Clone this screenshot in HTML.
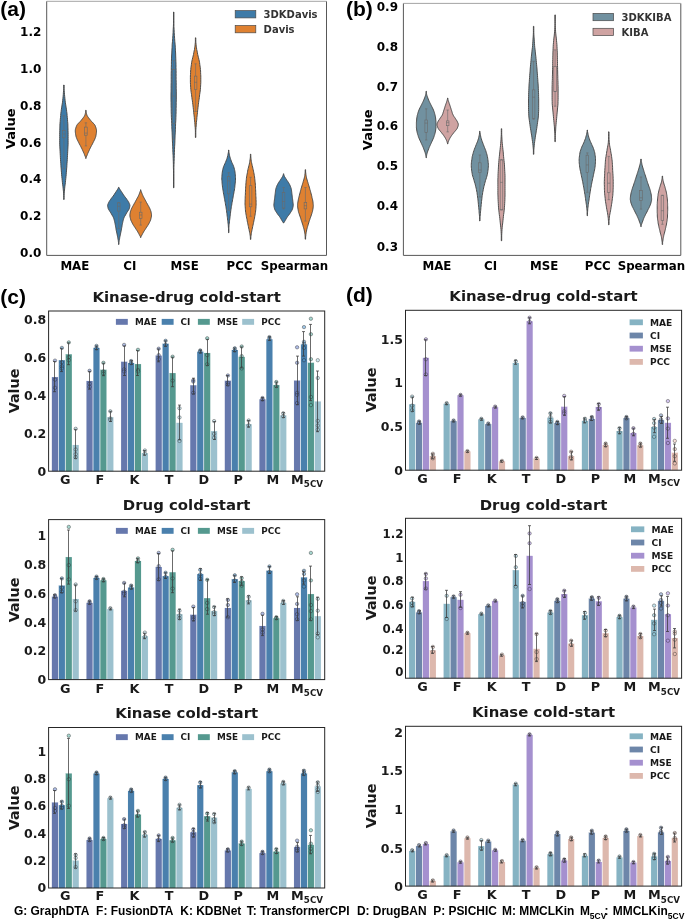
<!DOCTYPE html>
<html lang="en"><head><meta charset="utf-8"><title>Figure</title>
<style>html,body{margin:0;padding:0;background:#fff}body{width:685px;height:921px;overflow:hidden}svg{display:block}.p{fill-opacity:.55;stroke:#1c1c1c;stroke-opacity:.7;stroke-width:.55}.e{fill:none;stroke:#3a3a3a;stroke-opacity:.75;stroke-width:1}</style>
</head><body>
<svg width="685" height="921" viewBox="0 0 685 921">
<rect x="0.00" y="0.00" width="685.00" height="921.00" fill="#fff" stroke="none" stroke-width="1"/>
<rect x="46.70" y="1.30" width="279.80" height="254.10" fill="#fff" stroke="none" stroke-width="1"/>
<path d="M46.7,1.3V255.4H326.5V1.3" fill="none" stroke="#585858" stroke-width="1"/>
<line x1="46.70" y1="1.30" x2="326.50" y2="1.30" stroke="#9a9a9a" stroke-width="0.9"/>
<path d="M63.7,85.0L63.7,86.9L63.7,88.8L63.6,90.7L63.4,92.6L63.3,94.5L63.1,96.5L62.9,98.4L62.7,100.3L62.5,102.2L62.2,104.1L61.9,106.0L61.6,107.9L61.3,109.8L61.1,111.7L60.8,113.6L60.7,115.5L60.5,117.4L60.3,119.3L60.2,121.3L60.0,123.2L59.9,125.1L59.9,127.0L59.8,128.9L59.8,130.8L59.7,132.7L59.7,134.6L59.7,136.5L59.7,138.4L59.7,140.3L59.7,142.2L59.7,144.2L59.8,146.1L59.9,148.0L60.0,149.9L60.1,151.8L60.2,153.7L60.3,155.6L60.4,157.5L60.5,159.4L60.6,161.3L60.8,163.2L60.9,165.2L61.0,167.1L61.2,169.0L61.3,170.9L61.5,172.8L61.6,174.7L61.8,176.6L62.0,178.5L62.2,180.4L62.4,182.3L62.6,184.2L62.9,186.1L63.1,188.1L63.3,190.0L63.5,191.9L63.6,193.8L63.7,195.7L63.7,197.6L63.7,199.5L64.1,199.5L64.1,197.6L64.1,195.7L64.2,193.8L64.3,191.9L64.5,190.0L64.7,188.1L64.9,186.1L65.2,184.2L65.4,182.3L65.6,180.4L65.8,178.5L66.0,176.6L66.2,174.7L66.3,172.8L66.5,170.9L66.6,169.0L66.8,167.1L66.9,165.2L67.0,163.2L67.2,161.3L67.3,159.4L67.4,157.5L67.5,155.6L67.6,153.7L67.7,151.8L67.8,149.9L67.9,148.0L68.0,146.1L68.1,144.2L68.1,142.2L68.1,140.3L68.1,138.4L68.1,136.5L68.1,134.6L68.1,132.7L68.0,130.8L68.0,128.9L67.9,127.0L67.9,125.1L67.8,123.2L67.6,121.3L67.5,119.3L67.3,117.4L67.1,115.5L67.0,113.6L66.7,111.7L66.5,109.8L66.2,107.9L65.9,106.0L65.6,104.1L65.3,102.2L65.1,100.3L64.9,98.4L64.7,96.5L64.5,94.5L64.4,92.6L64.2,90.7L64.1,88.8L64.1,86.9L64.1,85.0Z" fill="#3e7ba8" stroke="#484848" stroke-width="0.95" stroke-linejoin="round"/>
<line x1="63.90" y1="115.70" x2="63.90" y2="130.40" stroke="#6a6a6a" stroke-width="0.6"/>
<line x1="63.90" y1="137.80" x2="63.90" y2="168.80" stroke="#6a6a6a" stroke-width="0.6"/>
<line x1="62.70" y1="115.70" x2="65.10" y2="115.70" stroke="#6a6a6a" stroke-width="0.6"/>
<line x1="62.70" y1="168.80" x2="65.10" y2="168.80" stroke="#6a6a6a" stroke-width="0.6"/>
<rect x="62.60" y="130.40" width="2.60" height="7.40" fill="none" stroke="#6a6a6a" stroke-width="0.6"/>
<line x1="62.60" y1="134.00" x2="65.20" y2="134.00" stroke="#6a6a6a" stroke-width="0.6"/>
<path d="M85.7,110.3L85.7,111.1L85.7,111.9L85.5,112.7L85.3,113.5L85.1,114.3L84.9,115.1L84.5,115.9L84.0,116.7L83.4,117.5L82.8,118.3L82.2,119.1L81.5,119.9L80.9,120.7L80.2,121.5L79.4,122.3L78.6,123.1L77.8,123.9L77.2,124.7L76.7,125.5L76.4,126.3L76.1,127.1L75.8,127.9L75.6,128.7L75.4,129.5L75.3,130.3L75.3,131.1L75.3,131.9L75.4,132.7L75.5,133.5L75.6,134.3L75.8,135.2L75.9,136.0L76.1,136.8L76.4,137.6L76.7,138.4L77.0,139.2L77.4,140.0L77.8,140.8L78.2,141.6L78.6,142.4L79.0,143.2L79.4,144.0L79.8,144.8L80.3,145.6L80.7,146.4L81.1,147.2L81.5,148.0L81.9,148.8L82.3,149.6L82.6,150.4L83.0,151.2L83.4,152.0L83.7,152.8L84.1,153.6L84.4,154.4L84.7,155.2L85.0,156.0L85.4,156.8L85.7,157.6L85.7,158.4L86.1,158.4L86.1,157.6L86.4,156.8L86.8,156.0L87.1,155.2L87.4,154.4L87.7,153.6L88.1,152.8L88.4,152.0L88.8,151.2L89.2,150.4L89.5,149.6L89.9,148.8L90.3,148.0L90.7,147.2L91.1,146.4L91.5,145.6L92.0,144.8L92.4,144.0L92.8,143.2L93.2,142.4L93.6,141.6L94.0,140.8L94.4,140.0L94.8,139.2L95.1,138.4L95.4,137.6L95.7,136.8L95.9,136.0L96.0,135.2L96.2,134.3L96.3,133.5L96.4,132.7L96.5,131.9L96.5,131.1L96.5,130.3L96.4,129.5L96.2,128.7L96.0,127.9L95.7,127.1L95.4,126.3L95.1,125.5L94.6,124.7L94.0,123.9L93.2,123.1L92.4,122.3L91.6,121.5L90.9,120.7L90.3,119.9L89.6,119.1L89.0,118.3L88.4,117.5L87.8,116.7L87.3,115.9L86.9,115.1L86.7,114.3L86.5,113.5L86.3,112.7L86.1,111.9L86.1,111.1L86.1,110.3Z" fill="#df8131" stroke="#484848" stroke-width="0.95" stroke-linejoin="round"/>
<line x1="85.90" y1="122.80" x2="85.90" y2="127.10" stroke="#6a6a6a" stroke-width="0.6"/>
<line x1="85.90" y1="135.20" x2="85.90" y2="145.90" stroke="#6a6a6a" stroke-width="0.6"/>
<line x1="84.70" y1="122.80" x2="87.10" y2="122.80" stroke="#6a6a6a" stroke-width="0.6"/>
<line x1="84.70" y1="145.90" x2="87.10" y2="145.90" stroke="#6a6a6a" stroke-width="0.6"/>
<rect x="84.60" y="127.10" width="2.60" height="8.10" fill="none" stroke="#6a6a6a" stroke-width="0.6"/>
<line x1="84.60" y1="133.10" x2="87.20" y2="133.10" stroke="#6a6a6a" stroke-width="0.6"/>
<path d="M118.5,187.4L118.2,188.3L117.6,189.3L117.0,190.2L116.4,191.2L115.7,192.2L115.1,193.1L114.5,194.1L113.9,195.0L113.2,196.0L112.5,196.9L111.8,197.8L111.0,198.8L110.4,199.8L109.7,200.7L109.1,201.7L108.6,202.6L108.2,203.6L107.8,204.5L107.6,205.5L107.7,206.4L107.9,207.3L108.1,208.3L108.5,209.2L109.1,210.2L109.7,211.2L110.4,212.1L110.9,213.1L111.5,214.0L112.0,215.0L112.5,215.9L113.1,216.8L113.5,217.8L113.9,218.8L114.1,219.7L114.4,220.7L114.6,221.6L114.8,222.6L115.0,223.5L115.2,224.4L115.4,225.4L115.5,226.4L115.7,227.3L115.9,228.2L116.0,229.2L116.2,230.2L116.4,231.1L116.6,232.1L116.8,233.0L117.0,233.9L117.2,234.9L117.4,235.9L117.6,236.8L117.8,237.8L117.9,238.7L118.1,239.7L118.3,240.6L118.4,241.6L118.5,242.5L118.5,243.4L118.5,244.4L119.0,244.4L119.0,243.4L119.0,242.5L119.1,241.6L119.2,240.6L119.4,239.7L119.6,238.7L119.7,237.8L119.9,236.8L120.1,235.9L120.3,234.9L120.5,233.9L120.7,233.0L120.9,232.1L121.1,231.1L121.3,230.2L121.5,229.2L121.6,228.2L121.8,227.3L122.0,226.4L122.1,225.4L122.3,224.4L122.5,223.5L122.7,222.6L122.9,221.6L123.1,220.7L123.4,219.7L123.6,218.8L124.0,217.8L124.4,216.8L125.0,215.9L125.5,215.0L126.0,214.0L126.6,213.1L127.1,212.1L127.8,211.2L128.4,210.2L129.0,209.2L129.4,208.3L129.6,207.3L129.8,206.4L129.9,205.5L129.7,204.5L129.3,203.6L128.9,202.6L128.4,201.7L127.8,200.7L127.1,199.8L126.5,198.8L125.7,197.8L125.0,196.9L124.3,196.0L123.6,195.0L123.0,194.1L122.4,193.1L121.8,192.2L121.1,191.2L120.5,190.2L119.9,189.3L119.3,188.3L119.0,187.4Z" fill="#3e7ba8" stroke="#484848" stroke-width="0.95" stroke-linejoin="round"/>
<line x1="118.75" y1="202.60" x2="118.75" y2="202.90" stroke="#6a6a6a" stroke-width="0.6"/>
<line x1="118.75" y1="211.10" x2="118.75" y2="228.60" stroke="#6a6a6a" stroke-width="0.6"/>
<line x1="117.55" y1="202.60" x2="119.95" y2="202.60" stroke="#6a6a6a" stroke-width="0.6"/>
<line x1="117.55" y1="228.60" x2="119.95" y2="228.60" stroke="#6a6a6a" stroke-width="0.6"/>
<rect x="117.45" y="202.90" width="2.60" height="8.20" fill="none" stroke="#6a6a6a" stroke-width="0.6"/>
<line x1="117.45" y1="206.30" x2="120.05" y2="206.30" stroke="#6a6a6a" stroke-width="0.6"/>
<path d="M140.5,189.8L140.5,190.6L140.2,191.4L139.9,192.2L139.6,193.0L139.3,193.8L139.0,194.6L138.6,195.4L138.3,196.2L137.9,197.0L137.4,197.8L137.0,198.5L136.6,199.3L136.2,200.1L135.7,200.9L135.3,201.7L134.9,202.5L134.4,203.3L134.0,204.1L133.5,204.9L133.1,205.7L132.6,206.5L132.2,207.3L131.8,208.1L131.4,208.9L131.1,209.7L130.8,210.5L130.5,211.3L130.3,212.1L130.2,212.9L130.0,213.7L129.9,214.4L129.9,215.2L129.9,216.0L130.0,216.8L130.2,217.6L130.4,218.4L130.6,219.2L130.8,220.0L131.1,220.8L131.5,221.6L131.9,222.4L132.3,223.2L132.7,224.0L133.2,224.8L133.7,225.6L134.2,226.4L134.8,227.2L135.3,228.0L135.8,228.8L136.3,229.6L136.8,230.3L137.3,231.1L137.8,231.9L138.2,232.7L138.7,233.5L139.1,234.3L139.5,235.1L140.0,235.9L140.4,236.7L140.5,237.5L140.9,237.5L141.0,236.7L141.4,235.9L141.9,235.1L142.3,234.3L142.7,233.5L143.2,232.7L143.6,231.9L144.1,231.1L144.6,230.3L145.1,229.6L145.6,228.8L146.1,228.0L146.6,227.2L147.2,226.4L147.7,225.6L148.2,224.8L148.7,224.0L149.1,223.2L149.5,222.4L149.9,221.6L150.3,220.8L150.6,220.0L150.8,219.2L151.0,218.4L151.2,217.6L151.4,216.8L151.5,216.0L151.5,215.2L151.5,214.4L151.4,213.7L151.2,212.9L151.1,212.1L150.9,211.3L150.6,210.5L150.3,209.7L150.0,208.9L149.6,208.1L149.2,207.3L148.8,206.5L148.3,205.7L147.9,204.9L147.4,204.1L147.0,203.3L146.5,202.5L146.1,201.7L145.7,200.9L145.2,200.1L144.8,199.3L144.4,198.5L144.0,197.8L143.5,197.0L143.1,196.2L142.8,195.4L142.4,194.6L142.1,193.8L141.8,193.0L141.5,192.2L141.2,191.4L140.9,190.6L140.9,189.8Z" fill="#df8131" stroke="#484848" stroke-width="0.95" stroke-linejoin="round"/>
<line x1="140.70" y1="202.10" x2="140.70" y2="212.20" stroke="#6a6a6a" stroke-width="0.6"/>
<line x1="140.70" y1="218.50" x2="140.70" y2="225.10" stroke="#6a6a6a" stroke-width="0.6"/>
<line x1="139.50" y1="202.10" x2="141.90" y2="202.10" stroke="#6a6a6a" stroke-width="0.6"/>
<line x1="139.50" y1="225.10" x2="141.90" y2="225.10" stroke="#6a6a6a" stroke-width="0.6"/>
<rect x="139.40" y="212.20" width="2.60" height="6.30" fill="none" stroke="#6a6a6a" stroke-width="0.6"/>
<line x1="139.40" y1="215.00" x2="142.00" y2="215.00" stroke="#6a6a6a" stroke-width="0.6"/>
<path d="M173.5,12.0L173.5,14.9L173.5,17.9L173.5,20.8L173.5,23.7L173.4,26.6L173.2,29.6L173.1,32.5L172.9,35.4L172.7,38.4L172.5,41.3L172.2,44.2L172.1,47.2L171.9,50.1L171.8,53.0L171.6,56.0L171.5,58.9L171.4,61.8L171.4,64.7L171.3,67.7L171.3,70.6L171.2,73.5L171.2,76.5L171.2,79.4L171.2,82.3L171.1,85.2L171.1,88.2L171.1,91.1L171.0,94.0L171.0,97.0L171.0,99.9L171.1,102.8L171.1,105.8L171.2,108.7L171.2,111.6L171.3,114.5L171.4,117.5L171.6,120.4L171.7,123.3L171.8,126.3L171.9,129.2L172.1,132.1L172.2,135.1L172.3,138.0L172.4,140.9L172.6,143.9L172.7,146.8L172.8,149.7L172.9,152.6L173.1,155.6L173.2,158.5L173.3,161.4L173.4,164.4L173.4,167.3L173.5,170.2L173.5,173.2L173.5,176.1L173.5,179.0L173.5,181.9L173.5,184.9L173.5,187.8L173.9,187.8L173.9,184.9L173.9,181.9L173.9,179.0L173.9,176.1L173.9,173.2L173.9,170.2L173.9,167.3L174.0,164.4L174.1,161.4L174.2,158.5L174.3,155.6L174.4,152.6L174.5,149.7L174.6,146.8L174.8,143.9L174.9,140.9L175.0,138.0L175.1,135.1L175.3,132.1L175.4,129.2L175.5,126.3L175.6,123.3L175.8,120.4L175.9,117.5L176.0,114.5L176.1,111.6L176.1,108.7L176.2,105.8L176.2,102.8L176.3,99.9L176.3,97.0L176.3,94.0L176.3,91.1L176.2,88.2L176.2,85.2L176.2,82.3L176.1,79.4L176.1,76.5L176.1,73.5L176.1,70.6L176.0,67.7L176.0,64.7L175.9,61.8L175.8,58.9L175.7,56.0L175.6,53.0L175.4,50.1L175.3,47.2L175.1,44.2L174.8,41.3L174.6,38.4L174.4,35.4L174.2,32.5L174.1,29.6L173.9,26.6L173.9,23.7L173.9,20.8L173.9,17.9L173.9,14.9L173.9,12.0Z" fill="#3e7ba8" stroke="#484848" stroke-width="0.95" stroke-linejoin="round"/>
<line x1="173.66" y1="60.70" x2="173.66" y2="69.60" stroke="#6a6a6a" stroke-width="0.6"/>
<line x1="173.66" y1="123.40" x2="173.66" y2="139.80" stroke="#6a6a6a" stroke-width="0.6"/>
<line x1="172.46" y1="60.70" x2="174.86" y2="60.70" stroke="#6a6a6a" stroke-width="0.6"/>
<line x1="172.46" y1="139.80" x2="174.86" y2="139.80" stroke="#6a6a6a" stroke-width="0.6"/>
<rect x="172.36" y="69.60" width="2.60" height="53.80" fill="none" stroke="#6a6a6a" stroke-width="0.6"/>
<line x1="172.36" y1="96.00" x2="174.96" y2="96.00" stroke="#6a6a6a" stroke-width="0.6"/>
<path d="M195.4,37.8L195.4,39.5L195.4,41.1L195.3,42.8L195.1,44.4L195.0,46.1L194.7,47.8L194.5,49.4L194.1,51.1L193.8,52.8L193.5,54.4L193.1,56.1L192.7,57.7L192.3,59.4L191.9,61.1L191.6,62.7L191.4,64.4L191.2,66.0L190.9,67.7L190.8,69.4L190.6,71.0L190.6,72.7L190.5,74.4L190.4,76.0L190.4,77.7L190.4,79.3L190.4,81.0L190.4,82.7L190.5,84.3L190.6,86.0L190.7,87.7L190.8,89.3L191.0,91.0L191.2,92.6L191.5,94.3L191.7,96.0L191.9,97.6L192.1,99.3L192.4,100.9L192.6,102.6L192.8,104.3L193.0,105.9L193.2,107.6L193.4,109.3L193.6,110.9L193.7,112.6L193.9,114.2L194.1,115.9L194.3,117.6L194.4,119.2L194.6,120.9L194.8,122.5L194.9,124.2L195.0,125.9L195.2,127.5L195.3,129.2L195.4,130.9L195.4,132.5L195.4,134.2L195.4,135.8L195.4,137.5L195.8,137.5L195.8,135.8L195.8,134.2L195.8,132.5L195.8,130.9L195.9,129.2L196.0,127.5L196.2,125.9L196.3,124.2L196.4,122.5L196.6,120.9L196.8,119.2L196.9,117.6L197.1,115.9L197.3,114.2L197.5,112.6L197.6,110.9L197.8,109.3L198.0,107.6L198.2,105.9L198.4,104.3L198.6,102.6L198.8,100.9L199.1,99.3L199.3,97.6L199.5,96.0L199.7,94.3L200.0,92.6L200.2,91.0L200.4,89.3L200.5,87.7L200.6,86.0L200.7,84.3L200.8,82.7L200.8,81.0L200.8,79.3L200.8,77.7L200.8,76.0L200.7,74.4L200.6,72.7L200.6,71.0L200.4,69.4L200.3,67.7L200.0,66.0L199.8,64.4L199.6,62.7L199.3,61.1L198.9,59.4L198.5,57.7L198.1,56.1L197.7,54.4L197.4,52.8L197.1,51.1L196.7,49.4L196.5,47.8L196.2,46.1L196.1,44.4L195.9,42.8L195.8,41.1L195.8,39.5L195.8,37.8Z" fill="#df8131" stroke="#484848" stroke-width="0.95" stroke-linejoin="round"/>
<line x1="195.60" y1="63.80" x2="195.60" y2="76.10" stroke="#6a6a6a" stroke-width="0.6"/>
<line x1="195.60" y1="89.50" x2="195.60" y2="111.50" stroke="#6a6a6a" stroke-width="0.6"/>
<line x1="194.40" y1="63.80" x2="196.80" y2="63.80" stroke="#6a6a6a" stroke-width="0.6"/>
<line x1="194.40" y1="111.50" x2="196.80" y2="111.50" stroke="#6a6a6a" stroke-width="0.6"/>
<rect x="194.30" y="76.10" width="2.60" height="13.40" fill="none" stroke="#6a6a6a" stroke-width="0.6"/>
<line x1="194.30" y1="82.30" x2="196.90" y2="82.30" stroke="#6a6a6a" stroke-width="0.6"/>
<path d="M228.5,150.1L228.5,151.5L228.3,152.9L228.0,154.2L227.8,155.6L227.4,157.0L227.0,158.4L226.5,159.7L226.0,161.1L225.4,162.5L224.8,163.9L224.2,165.2L223.6,166.6L223.2,168.0L222.8,169.4L222.5,170.8L222.3,172.1L222.1,173.5L222.0,174.9L221.9,176.3L221.8,177.6L221.8,179.0L221.9,180.4L222.0,181.8L222.1,183.1L222.2,184.5L222.4,185.9L222.5,187.3L222.7,188.6L223.0,190.0L223.2,191.4L223.4,192.8L223.7,194.2L223.9,195.5L224.2,196.9L224.4,198.3L224.7,199.7L224.9,201.0L225.2,202.4L225.4,203.8L225.6,205.2L225.9,206.5L226.1,207.9L226.3,209.3L226.5,210.7L226.7,212.0L226.9,213.4L227.0,214.8L227.2,216.2L227.4,217.6L227.5,218.9L227.7,220.3L227.9,221.7L228.0,223.1L228.2,224.4L228.3,225.8L228.4,227.2L228.5,228.6L228.5,229.9L228.5,231.3L228.5,232.7L228.9,232.7L228.9,231.3L228.9,229.9L228.9,228.6L228.9,227.2L229.0,225.8L229.1,224.4L229.3,223.1L229.5,221.7L229.6,220.3L229.8,218.9L230.0,217.6L230.1,216.2L230.3,214.8L230.5,213.4L230.6,212.0L230.8,210.7L231.0,209.3L231.2,207.9L231.4,206.5L231.7,205.2L231.9,203.8L232.1,202.4L232.4,201.0L232.6,199.7L232.9,198.3L233.1,196.9L233.4,195.5L233.6,194.2L233.9,192.8L234.1,191.4L234.4,190.0L234.6,188.6L234.8,187.3L234.9,185.9L235.1,184.5L235.2,183.1L235.4,181.8L235.5,180.4L235.5,179.0L235.5,177.6L235.4,176.3L235.3,174.9L235.2,173.5L235.0,172.1L234.8,170.8L234.5,169.4L234.1,168.0L233.7,166.6L233.2,165.2L232.5,163.9L231.9,162.5L231.3,161.1L230.8,159.7L230.4,158.4L229.9,157.0L229.6,155.6L229.3,154.2L229.0,152.9L228.9,151.5L228.9,150.1Z" fill="#3e7ba8" stroke="#484848" stroke-width="0.95" stroke-linejoin="round"/>
<line x1="228.66" y1="172.70" x2="228.66" y2="176.50" stroke="#6a6a6a" stroke-width="0.6"/>
<line x1="228.66" y1="193.80" x2="228.66" y2="210.40" stroke="#6a6a6a" stroke-width="0.6"/>
<line x1="227.46" y1="172.70" x2="229.86" y2="172.70" stroke="#6a6a6a" stroke-width="0.6"/>
<line x1="227.46" y1="210.40" x2="229.86" y2="210.40" stroke="#6a6a6a" stroke-width="0.6"/>
<rect x="227.36" y="176.50" width="2.60" height="17.30" fill="none" stroke="#6a6a6a" stroke-width="0.6"/>
<line x1="227.36" y1="180.80" x2="229.96" y2="180.80" stroke="#6a6a6a" stroke-width="0.6"/>
<path d="M250.4,154.2L250.4,155.6L250.4,157.0L250.2,158.5L250.0,159.9L249.8,161.3L249.6,162.7L249.3,164.1L248.9,165.6L248.6,167.0L248.2,168.4L247.9,169.8L247.6,171.2L247.4,172.7L247.1,174.1L246.8,175.5L246.6,176.9L246.4,178.3L246.3,179.8L246.1,181.2L246.0,182.6L245.9,184.0L245.8,185.4L245.7,186.9L245.6,188.3L245.5,189.7L245.5,191.1L245.4,192.5L245.4,194.0L245.3,195.4L245.2,196.8L245.2,198.2L245.1,199.6L245.1,201.1L245.0,202.5L245.0,203.9L245.1,205.3L245.2,206.7L245.3,208.2L245.4,209.6L245.5,211.0L245.7,212.4L245.9,213.8L246.2,215.3L246.4,216.7L246.7,218.1L247.0,219.5L247.2,220.9L247.5,222.4L247.8,223.8L248.1,225.2L248.4,226.6L248.7,228.0L249.0,229.5L249.3,230.9L249.6,232.3L249.9,233.7L250.1,235.1L250.3,236.6L250.4,238.0L250.4,239.4L250.8,239.4L250.8,238.0L250.9,236.6L251.1,235.1L251.3,233.7L251.5,232.3L251.8,230.9L252.1,229.5L252.4,228.0L252.7,226.6L253.0,225.2L253.3,223.8L253.6,222.4L253.9,220.9L254.2,219.5L254.5,218.1L254.7,216.7L255.0,215.3L255.2,213.8L255.5,212.4L255.6,211.0L255.8,209.6L255.9,208.2L256.0,206.7L256.1,205.3L256.1,203.9L256.1,202.5L256.1,201.1L256.0,199.6L256.0,198.2L255.9,196.8L255.8,195.4L255.8,194.0L255.7,192.5L255.7,191.1L255.6,189.7L255.5,188.3L255.5,186.9L255.4,185.4L255.3,184.0L255.2,182.6L255.0,181.2L254.9,179.8L254.7,178.3L254.6,176.9L254.3,175.5L254.1,174.1L253.8,172.7L253.5,171.2L253.2,169.8L252.9,168.4L252.6,167.0L252.2,165.6L251.9,164.1L251.6,162.7L251.3,161.3L251.1,159.9L251.0,158.5L250.8,157.0L250.8,155.6L250.8,154.2Z" fill="#df8131" stroke="#484848" stroke-width="0.95" stroke-linejoin="round"/>
<line x1="250.58" y1="177.30" x2="250.58" y2="185.70" stroke="#6a6a6a" stroke-width="0.6"/>
<line x1="250.58" y1="206.80" x2="250.58" y2="216.30" stroke="#6a6a6a" stroke-width="0.6"/>
<line x1="249.38" y1="177.30" x2="251.78" y2="177.30" stroke="#6a6a6a" stroke-width="0.6"/>
<line x1="249.38" y1="216.30" x2="251.78" y2="216.30" stroke="#6a6a6a" stroke-width="0.6"/>
<rect x="249.28" y="185.70" width="2.60" height="21.10" fill="none" stroke="#6a6a6a" stroke-width="0.6"/>
<line x1="249.28" y1="204.10" x2="251.88" y2="204.10" stroke="#6a6a6a" stroke-width="0.6"/>
<path d="M283.4,173.8L283.3,174.6L283.0,175.4L282.7,176.3L282.2,177.1L281.7,177.9L281.2,178.7L280.6,179.5L280.1,180.4L279.5,181.2L279.0,182.0L278.5,182.8L278.0,183.6L277.5,184.5L277.1,185.3L276.8,186.1L276.5,186.9L276.2,187.7L275.9,188.6L275.7,189.4L275.6,190.2L275.5,191.0L275.4,191.8L275.3,192.7L275.2,193.5L275.1,194.3L275.0,195.1L274.9,195.9L274.8,196.8L274.7,197.6L274.6,198.4L274.5,199.2L274.4,200.0L274.3,200.9L274.2,201.7L274.1,202.5L274.0,203.3L273.9,204.1L273.9,205.0L273.9,205.8L274.0,206.6L274.2,207.4L274.4,208.2L274.6,209.1L275.0,209.9L275.4,210.7L275.9,211.5L276.4,212.3L277.0,213.2L277.5,214.0L278.1,214.8L278.7,215.6L279.4,216.4L280.0,217.3L280.5,218.1L281.0,218.9L281.4,219.7L281.9,220.5L282.4,221.4L283.0,222.2L283.4,223.0L283.8,223.0L284.1,222.2L284.7,221.4L285.2,220.5L285.7,219.7L286.1,218.9L286.6,218.1L287.1,217.3L287.7,216.4L288.4,215.6L289.0,214.8L289.6,214.0L290.1,213.2L290.7,212.3L291.2,211.5L291.7,210.7L292.1,209.9L292.5,209.1L292.7,208.2L292.9,207.4L293.1,206.6L293.2,205.8L293.2,205.0L293.2,204.1L293.1,203.3L293.0,202.5L292.9,201.7L292.8,200.9L292.7,200.0L292.6,199.2L292.5,198.4L292.4,197.6L292.3,196.8L292.2,195.9L292.1,195.1L292.0,194.3L291.9,193.5L291.8,192.7L291.7,191.8L291.6,191.0L291.5,190.2L291.4,189.4L291.2,188.6L290.9,187.7L290.6,186.9L290.3,186.1L290.0,185.3L289.6,184.5L289.1,183.6L288.6,182.8L288.1,182.0L287.6,181.2L287.0,180.4L286.5,179.5L285.9,178.7L285.4,177.9L284.9,177.1L284.4,176.3L284.1,175.4L283.8,174.6L283.8,173.8Z" fill="#3e7ba8" stroke="#484848" stroke-width="0.95" stroke-linejoin="round"/>
<line x1="283.55" y1="187.50" x2="283.55" y2="192.30" stroke="#6a6a6a" stroke-width="0.6"/>
<line x1="283.55" y1="208.00" x2="283.55" y2="208.90" stroke="#6a6a6a" stroke-width="0.6"/>
<line x1="282.35" y1="187.50" x2="284.75" y2="187.50" stroke="#6a6a6a" stroke-width="0.6"/>
<line x1="282.35" y1="208.90" x2="284.75" y2="208.90" stroke="#6a6a6a" stroke-width="0.6"/>
<rect x="282.25" y="192.30" width="2.60" height="15.70" fill="none" stroke="#6a6a6a" stroke-width="0.6"/>
<line x1="282.25" y1="201.50" x2="284.85" y2="201.50" stroke="#6a6a6a" stroke-width="0.6"/>
<path d="M305.2,169.7L305.2,170.9L305.2,172.0L305.1,173.2L304.9,174.3L304.8,175.5L304.6,176.6L304.3,177.8L304.0,179.0L303.7,180.1L303.3,181.3L303.0,182.4L302.6,183.6L302.3,184.8L301.9,185.9L301.6,187.1L301.2,188.2L300.9,189.4L300.6,190.5L300.3,191.7L300.0,192.9L299.7,194.0L299.4,195.2L299.1,196.3L298.8,197.5L298.5,198.7L298.3,199.8L298.1,201.0L297.9,202.1L297.7,203.3L297.6,204.4L297.6,205.6L297.6,206.8L297.8,207.9L298.0,209.1L298.2,210.2L298.4,211.4L298.7,212.6L299.1,213.7L299.5,214.9L299.9,216.0L300.3,217.2L300.7,218.3L301.0,219.5L301.4,220.7L301.8,221.8L302.2,223.0L302.5,224.1L302.9,225.3L303.2,226.5L303.5,227.6L303.9,228.8L304.2,229.9L304.4,231.1L304.6,232.2L304.8,233.4L305.0,234.6L305.1,235.7L305.2,236.9L305.2,238.0L305.2,239.2L305.6,239.2L305.6,238.0L305.6,236.9L305.8,235.7L305.9,234.6L306.1,233.4L306.2,232.2L306.5,231.1L306.7,229.9L307.0,228.8L307.3,227.6L307.6,226.5L308.0,225.3L308.3,224.1L308.7,223.0L309.0,221.8L309.4,220.7L309.8,219.5L310.2,218.3L310.6,217.2L311.0,216.0L311.4,214.9L311.8,213.7L312.1,212.6L312.5,211.4L312.7,210.2L312.9,209.1L313.1,207.9L313.2,206.8L313.3,205.6L313.2,204.4L313.1,203.3L313.0,202.1L312.8,201.0L312.6,199.8L312.3,198.7L312.0,197.5L311.8,196.3L311.5,195.2L311.2,194.0L310.9,192.9L310.6,191.7L310.3,190.5L309.9,189.4L309.6,188.2L309.3,187.1L308.9,185.9L308.6,184.8L308.2,183.6L307.9,182.4L307.5,181.3L307.2,180.1L306.8,179.0L306.5,177.8L306.3,176.6L306.1,175.5L305.9,174.3L305.8,173.2L305.6,172.0L305.6,170.9L305.6,169.7Z" fill="#df8131" stroke="#484848" stroke-width="0.95" stroke-linejoin="round"/>
<line x1="305.43" y1="187.50" x2="305.43" y2="202.50" stroke="#6a6a6a" stroke-width="0.6"/>
<line x1="305.43" y1="208.90" x2="305.43" y2="221.10" stroke="#6a6a6a" stroke-width="0.6"/>
<line x1="304.23" y1="187.50" x2="306.63" y2="187.50" stroke="#6a6a6a" stroke-width="0.6"/>
<line x1="304.23" y1="221.10" x2="306.63" y2="221.10" stroke="#6a6a6a" stroke-width="0.6"/>
<rect x="304.13" y="202.50" width="2.60" height="6.40" fill="none" stroke="#6a6a6a" stroke-width="0.6"/>
<line x1="304.13" y1="205.70" x2="306.73" y2="205.70" stroke="#6a6a6a" stroke-width="0.6"/>
<text x="41.30" y="256.90" font-size="12.0" text-anchor="end" fill="#000" font-family="'DejaVu Sans','Liberation Sans',sans-serif" font-weight="bold">0.0</text>
<text x="41.30" y="220.20" font-size="12.0" text-anchor="end" fill="#000" font-family="'DejaVu Sans','Liberation Sans',sans-serif" font-weight="bold">0.2</text>
<text x="41.30" y="183.40" font-size="12.0" text-anchor="end" fill="#000" font-family="'DejaVu Sans','Liberation Sans',sans-serif" font-weight="bold">0.4</text>
<text x="41.30" y="146.60" font-size="12.0" text-anchor="end" fill="#000" font-family="'DejaVu Sans','Liberation Sans',sans-serif" font-weight="bold">0.6</text>
<text x="41.30" y="109.80" font-size="12.0" text-anchor="end" fill="#000" font-family="'DejaVu Sans','Liberation Sans',sans-serif" font-weight="bold">0.8</text>
<text x="41.30" y="73.00" font-size="12.0" text-anchor="end" fill="#000" font-family="'DejaVu Sans','Liberation Sans',sans-serif" font-weight="bold">1.0</text>
<text x="41.30" y="36.20" font-size="12.0" text-anchor="end" fill="#000" font-family="'DejaVu Sans','Liberation Sans',sans-serif" font-weight="bold">1.2</text>
<text x="74.85" y="270.40" font-size="11.8" text-anchor="middle" fill="#000" font-family="'DejaVu Sans','Liberation Sans',sans-serif" font-weight="bold">MAE</text>
<text x="129.75" y="270.40" font-size="11.8" text-anchor="middle" fill="#000" font-family="'DejaVu Sans','Liberation Sans',sans-serif" font-weight="bold">CI</text>
<text x="184.65" y="270.40" font-size="11.8" text-anchor="middle" fill="#000" font-family="'DejaVu Sans','Liberation Sans',sans-serif" font-weight="bold">MSE</text>
<text x="239.55" y="270.40" font-size="11.8" text-anchor="middle" fill="#000" font-family="'DejaVu Sans','Liberation Sans',sans-serif" font-weight="bold">PCC</text>
<text x="294.45" y="270.40" font-size="11.8" text-anchor="middle" fill="#000" font-family="'DejaVu Sans','Liberation Sans',sans-serif" font-weight="bold">Spearman</text>
<text x="14.70" y="128.70" font-size="13.0" text-anchor="middle" fill="#000" font-family="'DejaVu Sans','Liberation Sans',sans-serif" font-weight="bold" transform="rotate(-90 14.70 128.70)">Value</text>
<rect x="235.20" y="10.60" width="20.60" height="7.30" fill="#3e7ba8" stroke="#4a4a4a" stroke-width="0.7"/>
<text x="263.60" y="17.90" font-size="10.0" text-anchor="start" fill="#333" font-family="'DejaVu Sans','Liberation Sans',sans-serif" font-weight="bold">3DKDavis</text>
<rect x="235.20" y="25.50" width="20.60" height="7.30" fill="#df8131" stroke="#4a4a4a" stroke-width="0.7"/>
<text x="263.60" y="32.80" font-size="10.0" text-anchor="start" fill="#333" font-family="'DejaVu Sans','Liberation Sans',sans-serif" font-weight="bold">Davis</text>
<text x="0.30" y="16.20" font-size="21" text-anchor="start" fill="#000" font-family="'Liberation Sans','DejaVu Sans',sans-serif" font-weight="bold">(a)</text>
<rect x="403.40" y="3.40" width="277.40" height="252.00" fill="#fff" stroke="none" stroke-width="1"/>
<path d="M403.4,3.4V255.4H680.8V3.4" fill="none" stroke="#585858" stroke-width="1"/>
<line x1="403.40" y1="3.40" x2="680.80" y2="3.40" stroke="#9a9a9a" stroke-width="0.9"/>
<path d="M426.0,91.3L426.0,92.4L425.9,93.5L425.7,94.6L425.4,95.7L425.0,96.8L424.6,97.9L424.2,99.0L423.7,100.2L423.2,101.3L422.7,102.4L422.1,103.5L421.6,104.6L421.0,105.7L420.5,106.8L419.9,107.9L419.4,109.0L418.9,110.1L418.5,111.2L418.1,112.3L417.8,113.4L417.5,114.5L417.2,115.6L417.0,116.8L416.8,117.9L416.7,119.0L416.6,120.1L416.5,121.2L416.4,122.3L416.4,123.4L416.4,124.5L416.4,125.6L416.4,126.7L416.4,127.8L416.6,128.9L416.7,130.0L416.9,131.1L417.1,132.2L417.4,133.4L417.7,134.5L418.1,135.6L418.4,136.7L418.8,137.8L419.3,138.9L419.8,140.0L420.3,141.1L420.8,142.2L421.3,143.3L421.8,144.4L422.3,145.5L422.8,146.6L423.3,147.7L423.7,148.8L424.2,150.0L424.6,151.1L425.0,152.2L425.3,153.3L425.6,154.4L425.8,155.5L426.0,156.6L426.0,157.7L426.4,157.7L426.4,156.6L426.6,155.5L426.8,154.4L427.1,153.3L427.4,152.2L427.8,151.1L428.2,150.0L428.7,148.8L429.1,147.7L429.6,146.6L430.1,145.5L430.6,144.4L431.1,143.3L431.6,142.2L432.1,141.1L432.6,140.0L433.1,138.9L433.6,137.8L434.0,136.7L434.3,135.6L434.7,134.5L435.0,133.4L435.3,132.2L435.5,131.1L435.7,130.0L435.8,128.9L436.0,127.8L436.0,126.7L436.0,125.6L436.0,124.5L436.0,123.4L436.0,122.3L435.9,121.2L435.8,120.1L435.7,119.0L435.6,117.9L435.4,116.8L435.2,115.6L434.9,114.5L434.6,113.4L434.3,112.3L433.9,111.2L433.5,110.1L433.0,109.0L432.5,107.9L431.9,106.8L431.4,105.7L430.8,104.6L430.3,103.5L429.7,102.4L429.2,101.3L428.7,100.2L428.2,99.0L427.8,97.9L427.4,96.8L427.0,95.7L426.7,94.6L426.5,93.5L426.4,92.4L426.4,91.3Z" fill="#7191a0" stroke="#484848" stroke-width="0.95" stroke-linejoin="round"/>
<line x1="426.20" y1="108.80" x2="426.20" y2="120.00" stroke="#6a6a6a" stroke-width="0.6"/>
<line x1="426.20" y1="132.30" x2="426.20" y2="140.00" stroke="#6a6a6a" stroke-width="0.6"/>
<line x1="425.00" y1="108.80" x2="427.40" y2="108.80" stroke="#6a6a6a" stroke-width="0.6"/>
<line x1="425.00" y1="140.00" x2="427.40" y2="140.00" stroke="#6a6a6a" stroke-width="0.6"/>
<rect x="424.90" y="120.00" width="2.60" height="12.30" fill="none" stroke="#6a6a6a" stroke-width="0.6"/>
<line x1="424.90" y1="123.10" x2="427.50" y2="123.10" stroke="#6a6a6a" stroke-width="0.6"/>
<path d="M447.5,98.1L447.5,98.9L447.3,99.6L447.1,100.4L446.9,101.2L446.6,101.9L446.4,102.7L446.1,103.4L445.8,104.2L445.6,105.0L445.3,105.7L445.0,106.5L444.8,107.3L444.6,108.0L444.3,108.8L444.1,109.5L443.8,110.3L443.6,111.1L443.4,111.8L443.1,112.6L442.9,113.4L442.6,114.1L442.3,114.9L441.9,115.7L441.4,116.4L440.9,117.2L440.3,117.9L439.8,118.7L439.3,119.5L438.8,120.2L438.3,121.0L437.9,121.8L437.6,122.5L437.2,123.3L437.0,124.1L437.0,124.8L437.1,125.6L437.4,126.3L437.6,127.1L437.9,127.9L438.3,128.6L438.8,129.4L439.4,130.2L440.1,130.9L440.7,131.7L441.3,132.4L441.9,133.2L442.5,134.0L443.1,134.7L443.7,135.5L444.2,136.3L444.7,137.0L445.2,137.8L445.6,138.6L446.0,139.3L446.4,140.1L446.7,140.8L447.0,141.6L447.2,142.4L447.5,143.1L447.5,143.9L447.9,143.9L447.9,143.1L448.1,142.4L448.4,141.6L448.6,140.8L449.0,140.1L449.3,139.3L449.7,138.6L450.1,137.8L450.6,137.0L451.1,136.3L451.6,135.5L452.2,134.7L452.8,134.0L453.4,133.2L454.0,132.4L454.6,131.7L455.3,130.9L455.9,130.2L456.5,129.4L457.1,128.6L457.4,127.9L457.7,127.1L458.0,126.3L458.2,125.6L458.3,124.8L458.3,124.1L458.1,123.3L457.7,122.5L457.4,121.8L457.0,121.0L456.5,120.2L456.0,119.5L455.5,118.7L455.0,117.9L454.5,117.2L453.9,116.4L453.5,115.7L453.1,114.9L452.7,114.1L452.4,113.4L452.2,112.6L452.0,111.8L451.7,111.1L451.5,110.3L451.2,109.5L451.0,108.8L450.8,108.0L450.5,107.3L450.3,106.5L450.0,105.7L449.8,105.0L449.5,104.2L449.2,103.4L449.0,102.7L448.7,101.9L448.5,101.2L448.2,100.4L448.0,99.6L447.9,98.9L447.9,98.1Z" fill="#cfa3a2" stroke="#484848" stroke-width="0.95" stroke-linejoin="round"/>
<line x1="447.66" y1="110.00" x2="447.66" y2="120.90" stroke="#6a6a6a" stroke-width="0.6"/>
<line x1="447.66" y1="125.70" x2="447.66" y2="131.90" stroke="#6a6a6a" stroke-width="0.6"/>
<line x1="446.46" y1="110.00" x2="448.86" y2="110.00" stroke="#6a6a6a" stroke-width="0.6"/>
<line x1="446.46" y1="131.90" x2="448.86" y2="131.90" stroke="#6a6a6a" stroke-width="0.6"/>
<rect x="446.36" y="120.90" width="2.60" height="4.80" fill="none" stroke="#6a6a6a" stroke-width="0.6"/>
<line x1="446.36" y1="122.70" x2="448.96" y2="122.70" stroke="#6a6a6a" stroke-width="0.6"/>
<path d="M479.6,131.3L479.6,132.8L479.4,134.3L479.1,135.8L478.8,137.3L478.4,138.8L477.9,140.3L477.4,141.8L476.8,143.2L476.2,144.7L475.6,146.2L475.0,147.7L474.4,149.2L473.9,150.7L473.4,152.2L473.0,153.7L472.6,155.2L472.2,156.7L472.0,158.2L471.8,159.7L471.6,161.2L471.4,162.7L471.3,164.2L471.3,165.6L471.3,167.1L471.5,168.6L471.6,170.1L471.8,171.6L472.1,173.1L472.3,174.6L472.7,176.1L473.2,177.6L473.7,179.1L474.1,180.6L474.5,182.1L475.0,183.6L475.4,185.1L475.7,186.6L476.1,188.0L476.4,189.5L476.7,191.0L477.0,192.5L477.2,194.0L477.4,195.5L477.6,197.0L477.8,198.5L478.0,200.0L478.1,201.5L478.3,203.0L478.4,204.5L478.6,206.0L478.7,207.5L478.9,209.0L479.0,210.4L479.1,211.9L479.2,213.4L479.4,214.9L479.5,216.4L479.6,217.9L479.6,219.4L479.6,220.9L480.0,220.9L480.0,219.4L480.0,217.9L480.1,216.4L480.3,214.9L480.4,213.4L480.5,211.9L480.7,210.4L480.8,209.0L480.9,207.5L481.1,206.0L481.2,204.5L481.4,203.0L481.5,201.5L481.7,200.0L481.9,198.5L482.0,197.0L482.2,195.5L482.5,194.0L482.7,192.5L483.0,191.0L483.3,189.5L483.6,188.0L483.9,186.6L484.3,185.1L484.7,183.6L485.1,182.1L485.5,180.6L486.0,179.1L486.5,177.6L486.9,176.1L487.3,174.6L487.6,173.1L487.8,171.6L488.0,170.1L488.2,168.6L488.3,167.1L488.4,165.6L488.4,164.2L488.2,162.7L488.1,161.2L487.9,159.7L487.7,158.2L487.4,156.7L487.1,155.2L486.7,153.7L486.2,152.2L485.8,150.7L485.2,149.2L484.6,147.7L484.0,146.2L483.4,144.7L482.9,143.2L482.3,141.8L481.8,140.3L481.3,138.8L480.9,137.3L480.6,135.8L480.3,134.3L480.0,132.8L480.0,131.3Z" fill="#7191a0" stroke="#484848" stroke-width="0.95" stroke-linejoin="round"/>
<line x1="479.83" y1="155.00" x2="479.83" y2="162.80" stroke="#6a6a6a" stroke-width="0.6"/>
<line x1="479.83" y1="172.60" x2="479.83" y2="197.00" stroke="#6a6a6a" stroke-width="0.6"/>
<line x1="478.63" y1="155.00" x2="481.03" y2="155.00" stroke="#6a6a6a" stroke-width="0.6"/>
<line x1="478.63" y1="197.00" x2="481.03" y2="197.00" stroke="#6a6a6a" stroke-width="0.6"/>
<rect x="478.53" y="162.80" width="2.60" height="9.80" fill="none" stroke="#6a6a6a" stroke-width="0.6"/>
<line x1="478.53" y1="170.00" x2="481.13" y2="170.00" stroke="#6a6a6a" stroke-width="0.6"/>
<path d="M501.3,128.7L501.3,130.6L501.3,132.4L501.3,134.3L501.2,136.2L501.1,138.0L501.0,139.9L500.8,141.8L500.7,143.6L500.5,145.5L500.3,147.4L500.1,149.3L499.9,151.1L499.7,153.0L499.5,154.9L499.3,156.7L499.1,158.6L498.9,160.5L498.8,162.3L498.6,164.2L498.5,166.1L498.4,167.9L498.3,169.8L498.2,171.7L498.1,173.5L498.0,175.4L498.0,177.3L497.9,179.1L497.9,181.0L497.9,182.9L497.9,184.8L497.9,186.6L497.9,188.5L497.9,190.4L497.9,192.2L497.9,194.1L498.0,196.0L498.0,197.8L498.1,199.7L498.2,201.6L498.3,203.4L498.4,205.3L498.5,207.2L498.7,209.0L498.9,210.9L499.1,212.8L499.3,214.6L499.6,216.5L499.8,218.4L500.0,220.2L500.2,222.1L500.4,224.0L500.6,225.9L500.8,227.7L501.0,229.6L501.1,231.5L501.2,233.3L501.3,235.2L501.3,237.1L501.3,238.9L501.3,240.8L501.7,240.8L501.7,238.9L501.7,237.1L501.7,235.2L501.8,233.3L501.9,231.5L502.0,229.6L502.2,227.7L502.3,225.9L502.6,224.0L502.8,222.1L503.0,220.2L503.2,218.4L503.4,216.5L503.6,214.6L503.9,212.8L504.1,210.9L504.3,209.0L504.4,207.2L504.6,205.3L504.7,203.4L504.8,201.6L504.9,199.7L504.9,197.8L505.0,196.0L505.0,194.1L505.0,192.2L505.0,190.4L505.0,188.5L505.0,186.6L505.0,184.8L505.0,182.9L505.0,181.0L505.0,179.1L505.0,177.3L505.0,175.4L504.9,173.5L504.8,171.7L504.7,169.8L504.6,167.9L504.5,166.1L504.4,164.2L504.2,162.3L504.0,160.5L503.8,158.6L503.6,156.7L503.4,154.9L503.3,153.0L503.1,151.1L502.9,149.3L502.7,147.4L502.5,145.5L502.3,143.6L502.1,141.8L502.0,139.9L501.9,138.0L501.8,136.2L501.7,134.3L501.7,132.4L501.7,130.6L501.7,128.7Z" fill="#cfa3a2" stroke="#484848" stroke-width="0.95" stroke-linejoin="round"/>
<line x1="501.48" y1="159.60" x2="501.48" y2="160.00" stroke="#6a6a6a" stroke-width="0.6"/>
<line x1="501.48" y1="209.80" x2="501.48" y2="210.00" stroke="#6a6a6a" stroke-width="0.6"/>
<line x1="500.28" y1="159.60" x2="502.68" y2="159.60" stroke="#6a6a6a" stroke-width="0.6"/>
<line x1="500.28" y1="210.00" x2="502.68" y2="210.00" stroke="#6a6a6a" stroke-width="0.6"/>
<rect x="500.18" y="160.00" width="2.60" height="49.80" fill="none" stroke="#6a6a6a" stroke-width="0.6"/>
<line x1="500.18" y1="182.40" x2="502.78" y2="182.40" stroke="#6a6a6a" stroke-width="0.6"/>
<path d="M533.4,26.3L533.4,28.4L533.4,30.6L533.4,32.7L533.3,34.8L533.2,37.0L533.0,39.1L532.9,41.2L532.7,43.4L532.6,45.5L532.4,47.6L532.1,49.8L531.9,51.9L531.7,54.0L531.4,56.2L531.2,58.3L531.0,60.4L530.8,62.6L530.6,64.7L530.4,66.8L530.2,69.0L530.1,71.1L529.9,73.2L529.7,75.4L529.6,77.5L529.4,79.6L529.3,81.8L529.1,83.9L529.0,86.0L528.9,88.2L528.8,90.3L528.7,92.4L528.6,94.6L528.6,96.7L528.5,98.8L528.5,101.0L528.5,103.1L528.5,105.2L528.5,107.4L528.5,109.5L528.6,111.6L528.7,113.8L528.8,115.9L529.0,118.0L529.3,120.2L529.6,122.3L529.9,124.4L530.2,126.6L530.5,128.7L530.9,130.8L531.2,133.0L531.6,135.1L531.9,137.2L532.2,139.4L532.5,141.5L532.8,143.6L533.0,145.8L533.2,147.9L533.4,150.0L533.4,152.2L533.4,154.3L533.8,154.3L533.8,152.2L533.8,150.0L534.0,147.9L534.2,145.8L534.4,143.6L534.7,141.5L535.0,139.4L535.3,137.2L535.6,135.1L536.0,133.0L536.3,130.8L536.7,128.7L537.0,126.6L537.3,124.4L537.6,122.3L537.9,120.2L538.2,118.0L538.4,115.9L538.5,113.8L538.6,111.6L538.7,109.5L538.7,107.4L538.7,105.2L538.7,103.1L538.7,101.0L538.7,98.8L538.6,96.7L538.6,94.6L538.5,92.4L538.4,90.3L538.3,88.2L538.2,86.0L538.1,83.9L537.9,81.8L537.8,79.6L537.6,77.5L537.5,75.4L537.3,73.2L537.1,71.1L537.0,69.0L536.8,66.8L536.6,64.7L536.4,62.6L536.2,60.4L536.0,58.3L535.8,56.2L535.5,54.0L535.3,51.9L535.1,49.8L534.8,47.6L534.6,45.5L534.5,43.4L534.3,41.2L534.2,39.1L534.0,37.0L533.9,34.8L533.8,32.7L533.8,30.6L533.8,28.4L533.8,26.3Z" fill="#7191a0" stroke="#484848" stroke-width="0.95" stroke-linejoin="round"/>
<line x1="533.60" y1="61.40" x2="533.60" y2="89.90" stroke="#6a6a6a" stroke-width="0.6"/>
<line x1="533.60" y1="118.40" x2="533.60" y2="119.20" stroke="#6a6a6a" stroke-width="0.6"/>
<line x1="532.40" y1="61.40" x2="534.80" y2="61.40" stroke="#6a6a6a" stroke-width="0.6"/>
<line x1="532.40" y1="119.20" x2="534.80" y2="119.20" stroke="#6a6a6a" stroke-width="0.6"/>
<rect x="532.30" y="89.90" width="2.60" height="28.50" fill="none" stroke="#6a6a6a" stroke-width="0.6"/>
<line x1="532.30" y1="97.20" x2="534.90" y2="97.20" stroke="#6a6a6a" stroke-width="0.6"/>
<path d="M554.9,14.9L554.9,17.0L554.9,19.1L554.9,21.2L554.9,23.4L554.9,25.5L554.8,27.6L554.7,29.7L554.6,31.8L554.4,33.9L554.2,36.0L553.9,38.1L553.7,40.3L553.5,42.4L553.3,44.5L553.2,46.6L553.1,48.7L553.0,50.8L552.9,52.9L552.9,55.1L552.8,57.2L552.8,59.3L552.7,61.4L552.7,63.5L552.7,65.6L552.6,67.7L552.6,69.8L552.5,72.0L552.5,74.1L552.4,76.2L552.4,78.3L552.3,80.4L552.2,82.5L552.2,84.6L552.1,86.8L552.1,88.9L552.1,91.0L552.1,93.1L552.1,95.2L552.1,97.3L552.1,99.4L552.2,101.5L552.2,103.7L552.4,105.8L552.6,107.9L552.8,110.0L553.0,112.1L553.2,114.2L553.4,116.3L553.6,118.5L553.8,120.6L554.0,122.7L554.2,124.8L554.4,126.9L554.5,129.0L554.6,131.1L554.8,133.2L554.9,135.4L554.9,137.5L554.9,139.6L554.9,141.7L555.3,141.7L555.3,139.6L555.3,137.5L555.3,135.4L555.4,133.2L555.6,131.1L555.7,129.0L555.8,126.9L556.0,124.8L556.2,122.7L556.4,120.6L556.6,118.5L556.8,116.3L557.0,114.2L557.2,112.1L557.4,110.0L557.6,107.9L557.8,105.8L558.0,103.7L558.0,101.5L558.1,99.4L558.1,97.3L558.1,95.2L558.1,93.1L558.1,91.0L558.1,88.9L558.1,86.8L558.0,84.6L558.0,82.5L557.9,80.4L557.8,78.3L557.8,76.2L557.7,74.1L557.7,72.0L557.6,69.8L557.6,67.7L557.5,65.6L557.5,63.5L557.5,61.4L557.4,59.3L557.4,57.2L557.3,55.1L557.3,52.9L557.2,50.8L557.1,48.7L557.0,46.6L556.9,44.5L556.7,42.4L556.5,40.3L556.3,38.1L556.0,36.0L555.8,33.9L555.6,31.8L555.5,29.7L555.4,27.6L555.3,25.5L555.3,23.4L555.3,21.2L555.3,19.1L555.3,17.0L555.3,14.9Z" fill="#cfa3a2" stroke="#484848" stroke-width="0.95" stroke-linejoin="round"/>
<line x1="555.10" y1="49.90" x2="555.10" y2="66.30" stroke="#6a6a6a" stroke-width="0.6"/>
<line x1="555.10" y1="91.60" x2="555.10" y2="106.20" stroke="#6a6a6a" stroke-width="0.6"/>
<line x1="553.90" y1="49.90" x2="556.30" y2="49.90" stroke="#6a6a6a" stroke-width="0.6"/>
<line x1="553.90" y1="106.20" x2="556.30" y2="106.20" stroke="#6a6a6a" stroke-width="0.6"/>
<rect x="553.80" y="66.30" width="2.60" height="25.30" fill="none" stroke="#6a6a6a" stroke-width="0.6"/>
<line x1="553.80" y1="91.50" x2="556.40" y2="91.50" stroke="#6a6a6a" stroke-width="0.6"/>
<path d="M587.1,130.1L587.1,131.5L586.9,133.0L586.6,134.4L586.2,135.8L585.8,137.2L585.4,138.7L584.8,140.1L584.3,141.5L583.7,142.9L583.0,144.4L582.3,145.8L581.7,147.2L581.2,148.6L580.7,150.1L580.2,151.5L579.9,152.9L579.7,154.4L579.5,155.8L579.3,157.2L579.2,158.6L579.1,160.1L579.2,161.5L579.2,162.9L579.4,164.3L579.5,165.8L579.7,167.2L579.9,168.6L580.2,170.0L580.5,171.5L580.8,172.9L581.1,174.3L581.4,175.8L581.7,177.2L582.0,178.6L582.3,180.0L582.6,181.5L582.9,182.9L583.1,184.3L583.4,185.7L583.7,187.2L583.9,188.6L584.2,190.0L584.4,191.4L584.6,192.9L584.9,194.3L585.1,195.7L585.3,197.2L585.5,198.6L585.7,200.0L585.9,201.4L586.1,202.9L586.3,204.3L586.5,205.7L586.7,207.1L586.8,208.6L587.0,210.0L587.1,211.4L587.1,212.8L587.1,214.3L587.1,215.7L587.5,215.7L587.5,214.3L587.5,212.8L587.6,211.4L587.7,210.0L587.8,208.6L588.0,207.1L588.2,205.7L588.3,204.3L588.5,202.9L588.8,201.4L589.0,200.0L589.2,198.6L589.4,197.2L589.6,195.7L589.8,194.3L590.0,192.9L590.3,191.4L590.5,190.0L590.7,188.6L591.0,187.2L591.3,185.7L591.5,184.3L591.8,182.9L592.1,181.5L592.4,180.0L592.7,178.6L593.0,177.2L593.3,175.8L593.6,174.3L593.9,172.9L594.2,171.5L594.5,170.0L594.8,168.6L595.0,167.2L595.2,165.8L595.3,164.3L595.4,162.9L595.5,161.5L595.5,160.1L595.5,158.6L595.4,157.2L595.2,155.8L595.0,154.4L594.8,152.9L594.4,151.5L594.0,150.1L593.5,148.6L593.0,147.2L592.3,145.8L591.7,144.4L591.0,142.9L590.4,141.5L589.8,140.1L589.3,138.7L588.8,137.2L588.4,135.8L588.1,134.4L587.8,133.0L587.5,131.5L587.5,130.1Z" fill="#7191a0" stroke="#484848" stroke-width="0.95" stroke-linejoin="round"/>
<line x1="587.34" y1="152.90" x2="587.34" y2="155.20" stroke="#6a6a6a" stroke-width="0.6"/>
<line x1="587.34" y1="172.30" x2="587.34" y2="192.30" stroke="#6a6a6a" stroke-width="0.6"/>
<line x1="586.14" y1="152.90" x2="588.54" y2="152.90" stroke="#6a6a6a" stroke-width="0.6"/>
<line x1="586.14" y1="192.30" x2="588.54" y2="192.30" stroke="#6a6a6a" stroke-width="0.6"/>
<rect x="586.04" y="155.20" width="2.60" height="17.10" fill="none" stroke="#6a6a6a" stroke-width="0.6"/>
<line x1="586.04" y1="164.90" x2="588.64" y2="164.90" stroke="#6a6a6a" stroke-width="0.6"/>
<path d="M608.6,131.8L608.6,133.4L608.6,134.9L608.6,136.5L608.6,138.0L608.5,139.6L608.4,141.1L608.3,142.7L608.1,144.2L607.8,145.8L607.5,147.3L607.2,148.9L607.0,150.4L606.7,152.0L606.5,153.5L606.2,155.1L606.0,156.6L605.7,158.2L605.5,159.7L605.4,161.2L605.3,162.8L605.2,164.4L605.1,165.9L605.0,167.5L604.9,169.0L604.8,170.6L604.7,172.1L604.7,173.7L604.6,175.2L604.5,176.8L604.4,178.3L604.4,179.9L604.3,181.4L604.3,183.0L604.3,184.5L604.4,186.1L604.4,187.6L604.4,189.2L604.5,190.7L604.5,192.2L604.7,193.8L604.8,195.4L605.0,196.9L605.2,198.5L605.3,200.0L605.5,201.6L605.8,203.1L606.0,204.7L606.3,206.2L606.5,207.8L606.8,209.3L607.1,210.9L607.4,212.4L607.7,214.0L607.9,215.5L608.1,217.1L608.3,218.6L608.4,220.2L608.6,221.7L608.6,223.2L608.6,224.8L609.0,224.8L609.0,223.2L609.0,221.7L609.1,220.2L609.3,218.6L609.4,217.1L609.6,215.5L609.9,214.0L610.2,212.4L610.5,210.9L610.8,209.3L611.0,207.8L611.3,206.2L611.5,204.7L611.8,203.1L612.0,201.6L612.2,200.0L612.4,198.5L612.6,196.9L612.8,195.4L612.9,193.8L613.0,192.2L613.1,190.7L613.1,189.2L613.2,187.6L613.2,186.1L613.2,184.5L613.2,183.0L613.2,181.4L613.2,179.9L613.1,178.3L613.1,176.8L613.0,175.2L612.9,173.7L612.8,172.1L612.7,170.6L612.6,169.0L612.6,167.5L612.5,165.9L612.4,164.4L612.3,162.8L612.2,161.2L612.0,159.7L611.8,158.2L611.6,156.6L611.4,155.1L611.1,153.5L610.8,152.0L610.6,150.4L610.3,148.9L610.0,147.3L609.7,145.8L609.5,144.2L609.3,142.7L609.2,141.1L609.1,139.6L609.0,138.0L609.0,136.5L609.0,134.9L609.0,133.4L609.0,131.8Z" fill="#cfa3a2" stroke="#484848" stroke-width="0.95" stroke-linejoin="round"/>
<line x1="608.78" y1="156.40" x2="608.78" y2="172.90" stroke="#6a6a6a" stroke-width="0.6"/>
<line x1="608.78" y1="192.30" x2="608.78" y2="199.70" stroke="#6a6a6a" stroke-width="0.6"/>
<line x1="607.58" y1="156.40" x2="609.98" y2="156.40" stroke="#6a6a6a" stroke-width="0.6"/>
<line x1="607.58" y1="199.70" x2="609.98" y2="199.70" stroke="#6a6a6a" stroke-width="0.6"/>
<rect x="607.48" y="172.90" width="2.60" height="19.40" fill="none" stroke="#6a6a6a" stroke-width="0.6"/>
<line x1="607.48" y1="183.20" x2="610.08" y2="183.20" stroke="#6a6a6a" stroke-width="0.6"/>
<path d="M640.8,159.1L640.8,160.2L640.6,161.3L640.4,162.5L640.2,163.6L639.9,164.7L639.6,165.8L639.3,167.0L639.0,168.1L638.6,169.2L638.3,170.3L637.9,171.5L637.6,172.6L637.2,173.7L636.9,174.8L636.5,176.0L636.1,177.1L635.8,178.2L635.4,179.3L635.0,180.5L634.7,181.6L634.3,182.7L633.9,183.8L633.6,185.0L633.2,186.1L632.7,187.2L632.4,188.3L632.0,189.5L631.7,190.6L631.4,191.7L631.1,192.8L630.9,194.0L630.7,195.1L630.5,196.2L630.4,197.3L630.3,198.5L630.3,199.6L630.5,200.7L630.7,201.8L631.0,203.0L631.4,204.1L631.8,205.2L632.2,206.3L632.8,207.5L633.4,208.6L633.9,209.7L634.5,210.8L635.1,212.0L635.6,213.1L636.2,214.2L636.8,215.3L637.3,216.5L637.8,217.6L638.3,218.7L638.8,219.8L639.2,221.0L639.6,222.1L640.0,223.2L640.4,224.3L640.7,225.5L640.8,226.6L641.2,226.6L641.2,225.5L641.6,224.3L642.0,223.2L642.3,222.1L642.8,221.0L643.2,219.8L643.6,218.7L644.1,217.6L644.6,216.5L645.2,215.3L645.7,214.2L646.3,213.1L646.9,212.0L647.5,210.8L648.0,209.7L648.6,208.6L649.2,207.5L649.7,206.3L650.2,205.2L650.6,204.1L650.9,203.0L651.2,201.8L651.5,200.7L651.6,199.6L651.6,198.5L651.5,197.3L651.4,196.2L651.3,195.1L651.1,194.0L650.8,192.8L650.6,191.7L650.3,190.6L650.0,189.5L649.6,188.3L649.2,187.2L648.8,186.1L648.4,185.0L648.0,183.8L647.6,182.7L647.3,181.6L646.9,180.5L646.6,179.3L646.2,178.2L645.8,177.1L645.5,176.0L645.1,174.8L644.7,173.7L644.4,172.6L644.0,171.5L643.7,170.3L643.3,169.2L643.0,168.1L642.6,167.0L642.3,165.8L642.0,164.7L641.8,163.6L641.6,162.5L641.3,161.3L641.2,160.2L641.2,159.1Z" fill="#7191a0" stroke="#484848" stroke-width="0.95" stroke-linejoin="round"/>
<line x1="640.98" y1="177.00" x2="640.98" y2="190.60" stroke="#6a6a6a" stroke-width="0.6"/>
<line x1="640.98" y1="200.40" x2="640.98" y2="209.10" stroke="#6a6a6a" stroke-width="0.6"/>
<line x1="639.78" y1="177.00" x2="642.18" y2="177.00" stroke="#6a6a6a" stroke-width="0.6"/>
<line x1="639.78" y1="209.10" x2="642.18" y2="209.10" stroke="#6a6a6a" stroke-width="0.6"/>
<rect x="639.68" y="190.60" width="2.60" height="9.80" fill="none" stroke="#6a6a6a" stroke-width="0.6"/>
<line x1="639.68" y1="197.80" x2="642.28" y2="197.80" stroke="#6a6a6a" stroke-width="0.6"/>
<path d="M662.2,176.1L662.2,177.2L662.1,178.4L661.9,179.5L661.7,180.7L661.5,181.8L661.2,182.9L660.8,184.1L660.4,185.2L660.1,186.4L659.7,187.5L659.4,188.6L659.1,189.8L658.8,190.9L658.6,192.1L658.3,193.2L658.1,194.3L658.0,195.5L657.8,196.6L657.7,197.8L657.6,198.9L657.5,200.0L657.4,201.2L657.3,202.3L657.3,203.5L657.2,204.6L657.2,205.7L657.2,206.9L657.2,208.0L657.2,209.2L657.2,210.3L657.2,211.4L657.2,212.6L657.3,213.7L657.3,214.9L657.3,216.0L657.4,217.1L657.5,218.3L657.6,219.4L657.8,220.6L658.0,221.7L658.1,222.8L658.3,224.0L658.6,225.1L658.8,226.3L659.0,227.4L659.3,228.5L659.6,229.7L659.9,230.8L660.1,232.0L660.4,233.1L660.7,234.2L661.0,235.4L661.3,236.5L661.5,237.7L661.7,238.8L661.9,239.9L662.0,241.1L662.2,242.2L662.2,243.4L662.2,244.5L662.6,244.5L662.6,243.4L662.6,242.2L662.8,241.1L663.0,239.9L663.1,238.8L663.3,237.7L663.6,236.5L663.8,235.4L664.1,234.2L664.4,233.1L664.7,232.0L665.0,230.8L665.3,229.7L665.5,228.5L665.8,227.4L666.0,226.3L666.3,225.1L666.5,224.0L666.7,222.8L666.9,221.7L667.1,220.6L667.2,219.4L667.4,218.3L667.5,217.1L667.5,216.0L667.5,214.9L667.6,213.7L667.6,212.6L667.6,211.4L667.7,210.3L667.7,209.2L667.7,208.0L667.7,206.9L667.6,205.7L667.6,204.6L667.6,203.5L667.5,202.3L667.5,201.2L667.4,200.0L667.3,198.9L667.2,197.8L667.0,196.6L666.9,195.5L666.7,194.3L666.5,193.2L666.3,192.1L666.0,190.9L665.7,189.8L665.4,188.6L665.1,187.5L664.8,186.4L664.4,185.2L664.0,184.1L663.7,182.9L663.4,181.8L663.1,180.7L662.9,179.5L662.7,178.4L662.6,177.2L662.6,176.1Z" fill="#cfa3a2" stroke="#484848" stroke-width="0.95" stroke-linejoin="round"/>
<line x1="662.42" y1="195.20" x2="662.42" y2="195.70" stroke="#6a6a6a" stroke-width="0.6"/>
<line x1="662.42" y1="220.50" x2="662.42" y2="224.30" stroke="#6a6a6a" stroke-width="0.6"/>
<line x1="661.22" y1="195.20" x2="663.62" y2="195.20" stroke="#6a6a6a" stroke-width="0.6"/>
<line x1="661.22" y1="224.30" x2="663.62" y2="224.30" stroke="#6a6a6a" stroke-width="0.6"/>
<rect x="661.12" y="195.70" width="2.60" height="24.80" fill="none" stroke="#6a6a6a" stroke-width="0.6"/>
<line x1="661.12" y1="210.70" x2="663.72" y2="210.70" stroke="#6a6a6a" stroke-width="0.6"/>
<text x="398.00" y="250.70" font-size="12.0" text-anchor="end" fill="#000" font-family="'DejaVu Sans','Liberation Sans',sans-serif" font-weight="bold">0.3</text>
<text x="398.00" y="210.00" font-size="12.0" text-anchor="end" fill="#000" font-family="'DejaVu Sans','Liberation Sans',sans-serif" font-weight="bold">0.4</text>
<text x="398.00" y="170.10" font-size="12.0" text-anchor="end" fill="#000" font-family="'DejaVu Sans','Liberation Sans',sans-serif" font-weight="bold">0.5</text>
<text x="398.00" y="130.30" font-size="12.0" text-anchor="end" fill="#000" font-family="'DejaVu Sans','Liberation Sans',sans-serif" font-weight="bold">0.6</text>
<text x="398.00" y="90.50" font-size="12.0" text-anchor="end" fill="#000" font-family="'DejaVu Sans','Liberation Sans',sans-serif" font-weight="bold">0.7</text>
<text x="398.00" y="50.70" font-size="12.0" text-anchor="end" fill="#000" font-family="'DejaVu Sans','Liberation Sans',sans-serif" font-weight="bold">0.8</text>
<text x="398.00" y="10.80" font-size="12.0" text-anchor="end" fill="#000" font-family="'DejaVu Sans','Liberation Sans',sans-serif" font-weight="bold">0.9</text>
<text x="436.95" y="270.40" font-size="11.8" text-anchor="middle" fill="#000" font-family="'DejaVu Sans','Liberation Sans',sans-serif" font-weight="bold">MAE</text>
<text x="490.55" y="270.40" font-size="11.8" text-anchor="middle" fill="#000" font-family="'DejaVu Sans','Liberation Sans',sans-serif" font-weight="bold">CI</text>
<text x="544.15" y="270.40" font-size="11.8" text-anchor="middle" fill="#000" font-family="'DejaVu Sans','Liberation Sans',sans-serif" font-weight="bold">MSE</text>
<text x="597.75" y="270.40" font-size="11.8" text-anchor="middle" fill="#000" font-family="'DejaVu Sans','Liberation Sans',sans-serif" font-weight="bold">PCC</text>
<text x="651.35" y="270.40" font-size="11.8" text-anchor="middle" fill="#000" font-family="'DejaVu Sans','Liberation Sans',sans-serif" font-weight="bold">Spearman</text>
<text x="372.40" y="129.80" font-size="13.0" text-anchor="middle" fill="#000" font-family="'DejaVu Sans','Liberation Sans',sans-serif" font-weight="bold" transform="rotate(-90 372.40 129.80)">Value</text>
<rect x="593.00" y="13.40" width="20.60" height="7.30" fill="#7191a0" stroke="#4a4a4a" stroke-width="0.7"/>
<text x="621.60" y="20.70" font-size="10.0" text-anchor="start" fill="#333" font-family="'DejaVu Sans','Liberation Sans',sans-serif" font-weight="bold">3DKKIBA</text>
<rect x="593.00" y="28.30" width="20.60" height="7.30" fill="#cfa3a2" stroke="#4a4a4a" stroke-width="0.7"/>
<text x="621.60" y="35.60" font-size="10.0" text-anchor="start" fill="#333" font-family="'DejaVu Sans','Liberation Sans',sans-serif" font-weight="bold">KIBA</text>
<text x="346.00" y="16.00" font-size="21" text-anchor="start" fill="#000" font-family="'Liberation Sans','DejaVu Sans',sans-serif" font-weight="bold">(b)</text>
<rect x="48.60" y="311.00" width="276.10" height="160.20" fill="#fff" stroke="none" stroke-width="1"/>
<rect x="51.93" y="377.10" width="6.08" height="94.10" fill="#6678ad" stroke="#6678ad" stroke-width="0.3" stroke-opacity=".35"/>
<rect x="58.85" y="360.20" width="6.08" height="111.00" fill="#4a80ad" stroke="#4a80ad" stroke-width="0.3" stroke-opacity=".35"/>
<rect x="65.76" y="354.30" width="6.08" height="116.90" fill="#55998f" stroke="#55998f" stroke-width="0.3" stroke-opacity=".35"/>
<rect x="72.68" y="445.00" width="6.08" height="26.20" fill="#9cc1ce" stroke="#9cc1ce" stroke-width="0.3" stroke-opacity=".35"/>
<rect x="86.52" y="381.00" width="6.08" height="90.20" fill="#6678ad" stroke="#6678ad" stroke-width="0.3" stroke-opacity=".35"/>
<rect x="93.43" y="347.90" width="6.08" height="123.30" fill="#4a80ad" stroke="#4a80ad" stroke-width="0.3" stroke-opacity=".35"/>
<rect x="100.35" y="369.80" width="6.08" height="101.40" fill="#55998f" stroke="#55998f" stroke-width="0.3" stroke-opacity=".35"/>
<rect x="107.27" y="417.20" width="6.08" height="54.00" fill="#9cc1ce" stroke="#9cc1ce" stroke-width="0.3" stroke-opacity=".35"/>
<rect x="121.10" y="361.80" width="6.08" height="109.40" fill="#6678ad" stroke="#6678ad" stroke-width="0.3" stroke-opacity=".35"/>
<rect x="128.02" y="363.00" width="6.08" height="108.20" fill="#4a80ad" stroke="#4a80ad" stroke-width="0.3" stroke-opacity=".35"/>
<rect x="134.94" y="364.10" width="6.08" height="107.10" fill="#55998f" stroke="#55998f" stroke-width="0.3" stroke-opacity=".35"/>
<rect x="141.86" y="453.20" width="6.08" height="18.00" fill="#9cc1ce" stroke="#9cc1ce" stroke-width="0.3" stroke-opacity=".35"/>
<rect x="155.69" y="355.70" width="6.08" height="115.50" fill="#6678ad" stroke="#6678ad" stroke-width="0.3" stroke-opacity=".35"/>
<rect x="162.61" y="343.80" width="6.08" height="127.40" fill="#4a80ad" stroke="#4a80ad" stroke-width="0.3" stroke-opacity=".35"/>
<rect x="169.53" y="373.10" width="6.08" height="98.10" fill="#55998f" stroke="#55998f" stroke-width="0.3" stroke-opacity=".35"/>
<rect x="176.44" y="422.90" width="6.08" height="48.30" fill="#9cc1ce" stroke="#9cc1ce" stroke-width="0.3" stroke-opacity=".35"/>
<rect x="190.28" y="385.30" width="6.08" height="85.90" fill="#6678ad" stroke="#6678ad" stroke-width="0.3" stroke-opacity=".35"/>
<rect x="197.20" y="351.80" width="6.08" height="119.40" fill="#4a80ad" stroke="#4a80ad" stroke-width="0.3" stroke-opacity=".35"/>
<rect x="204.11" y="353.00" width="6.08" height="118.20" fill="#55998f" stroke="#55998f" stroke-width="0.3" stroke-opacity=".35"/>
<rect x="211.03" y="431.10" width="6.08" height="40.10" fill="#9cc1ce" stroke="#9cc1ce" stroke-width="0.3" stroke-opacity=".35"/>
<rect x="224.87" y="380.80" width="6.08" height="90.40" fill="#6678ad" stroke="#6678ad" stroke-width="0.3" stroke-opacity=".35"/>
<rect x="231.78" y="350.00" width="6.08" height="121.20" fill="#4a80ad" stroke="#4a80ad" stroke-width="0.3" stroke-opacity=".35"/>
<rect x="238.70" y="356.90" width="6.08" height="114.30" fill="#55998f" stroke="#55998f" stroke-width="0.3" stroke-opacity=".35"/>
<rect x="245.62" y="424.20" width="6.08" height="47.00" fill="#9cc1ce" stroke="#9cc1ce" stroke-width="0.3" stroke-opacity=".35"/>
<rect x="259.45" y="399.40" width="6.08" height="71.80" fill="#6678ad" stroke="#6678ad" stroke-width="0.3" stroke-opacity=".35"/>
<rect x="266.37" y="339.30" width="6.08" height="131.90" fill="#4a80ad" stroke="#4a80ad" stroke-width="0.3" stroke-opacity=".35"/>
<rect x="273.29" y="385.10" width="6.08" height="86.10" fill="#55998f" stroke="#55998f" stroke-width="0.3" stroke-opacity=".35"/>
<rect x="280.21" y="415.40" width="6.08" height="55.80" fill="#9cc1ce" stroke="#9cc1ce" stroke-width="0.3" stroke-opacity=".35"/>
<rect x="294.04" y="380.60" width="6.08" height="90.60" fill="#6678ad" stroke="#6678ad" stroke-width="0.3" stroke-opacity=".35"/>
<rect x="300.96" y="344.40" width="6.08" height="126.80" fill="#4a80ad" stroke="#4a80ad" stroke-width="0.3" stroke-opacity=".35"/>
<rect x="307.88" y="362.80" width="6.08" height="108.40" fill="#55998f" stroke="#55998f" stroke-width="0.3" stroke-opacity=".35"/>
<rect x="314.79" y="401.50" width="6.08" height="69.70" fill="#9cc1ce" stroke="#9cc1ce" stroke-width="0.3" stroke-opacity=".35"/>
<circle class="p" cx="55.0" cy="360.6" r="1.7" fill="#7088d4"/>
<circle class="p" cx="55.0" cy="379.6" r="1.7" fill="#7088d4"/>
<circle class="p" cx="55.0" cy="387.8" r="1.7" fill="#7088d4"/>
<path class="e" d="M54.5,361.4V391.7M53.0,361.4h3M53.0,391.7h3"/>
<circle class="p" cx="61.9" cy="347.9" r="1.7" fill="#4f95cf"/>
<circle class="p" cx="61.9" cy="362.2" r="1.7" fill="#4f95cf"/>
<circle class="p" cx="61.9" cy="366.3" r="1.7" fill="#4f95cf"/>
<circle class="p" cx="61.9" cy="368.4" r="1.7" fill="#4f95cf"/>
<path class="e" d="M61.5,348.3V371.6M60.0,348.3h3M60.0,371.6h3"/>
<circle class="p" cx="68.8" cy="342.4" r="1.7" fill="#5fb8ab"/>
<circle class="p" cx="68.8" cy="357.1" r="1.7" fill="#5fb8ab"/>
<circle class="p" cx="68.8" cy="360.2" r="1.7" fill="#5fb8ab"/>
<path class="e" d="M68.5,342.8V364.7M67.0,342.8h3M67.0,364.7h3"/>
<circle class="p" cx="75.7" cy="428.8" r="1.7" fill="#b0dcea"/>
<circle class="p" cx="75.7" cy="449.5" r="1.7" fill="#b0dcea"/>
<circle class="p" cx="75.7" cy="454.2" r="1.7" fill="#b0dcea"/>
<circle class="p" cx="75.7" cy="457.3" r="1.7" fill="#b0dcea"/>
<path class="e" d="M75.5,429.3V458.3M74.0,429.3h3M74.0,458.3h3"/>
<circle class="p" cx="89.6" cy="370.8" r="1.7" fill="#7088d4"/>
<circle class="p" cx="89.6" cy="383.7" r="1.7" fill="#7088d4"/>
<circle class="p" cx="89.6" cy="386.8" r="1.7" fill="#7088d4"/>
<path class="e" d="M89.5,371.4V389.2M88.0,371.4h3M88.0,389.2h3"/>
<circle class="p" cx="96.5" cy="345.9" r="1.7" fill="#4f95cf"/>
<circle class="p" cx="96.5" cy="348.3" r="1.7" fill="#4f95cf"/>
<path class="e" d="M96.5,345.9V349.6M95.0,345.9h3M95.0,349.6h3"/>
<circle class="p" cx="103.4" cy="362.8" r="1.7" fill="#5fb8ab"/>
<circle class="p" cx="103.4" cy="371.4" r="1.7" fill="#5fb8ab"/>
<circle class="p" cx="103.4" cy="373.5" r="1.7" fill="#5fb8ab"/>
<path class="e" d="M103.5,363.2V375.7M102.0,363.2h3M102.0,375.7h3"/>
<circle class="p" cx="110.3" cy="411.3" r="1.7" fill="#b0dcea"/>
<circle class="p" cx="110.3" cy="418.4" r="1.7" fill="#b0dcea"/>
<circle class="p" cx="110.3" cy="419.9" r="1.7" fill="#b0dcea"/>
<path class="e" d="M110.5,411.3V421.5M109.0,411.3h3M109.0,421.5h3"/>
<circle class="p" cx="124.1" cy="344.9" r="1.7" fill="#7088d4"/>
<circle class="p" cx="124.1" cy="369.4" r="1.7" fill="#7088d4"/>
<circle class="p" cx="124.1" cy="371.4" r="1.7" fill="#7088d4"/>
<path class="e" d="M124.5,345.9V375.5M123.0,345.9h3M123.0,375.5h3"/>
<circle class="p" cx="131.1" cy="361.0" r="1.7" fill="#4f95cf"/>
<circle class="p" cx="131.1" cy="363.2" r="1.7" fill="#4f95cf"/>
<path class="e" d="M131.5,360.6V364.3M130.0,360.6h3M130.0,364.3h3"/>
<circle class="p" cx="138.0" cy="349.8" r="1.7" fill="#5fb8ab"/>
<circle class="p" cx="138.0" cy="370.0" r="1.7" fill="#5fb8ab"/>
<circle class="p" cx="138.0" cy="371.4" r="1.7" fill="#5fb8ab"/>
<path class="e" d="M137.5,350.4V375.5M136.0,350.4h3M136.0,375.5h3"/>
<circle class="p" cx="144.9" cy="450.5" r="1.7" fill="#b0dcea"/>
<circle class="p" cx="144.9" cy="453.6" r="1.7" fill="#b0dcea"/>
<path class="e" d="M144.5,450.5V455.2M143.0,450.5h3M143.0,455.2h3"/>
<circle class="p" cx="158.7" cy="348.7" r="1.7" fill="#7088d4"/>
<circle class="p" cx="158.7" cy="355.1" r="1.7" fill="#7088d4"/>
<circle class="p" cx="158.7" cy="359.2" r="1.7" fill="#7088d4"/>
<path class="e" d="M158.5,348.9V361.8M157.0,348.9h3M157.0,361.8h3"/>
<circle class="p" cx="165.6" cy="340.8" r="1.7" fill="#4f95cf"/>
<circle class="p" cx="165.6" cy="344.9" r="1.7" fill="#4f95cf"/>
<path class="e" d="M165.5,340.8V346.3M164.0,340.8h3M164.0,346.3h3"/>
<circle class="p" cx="172.6" cy="356.7" r="1.7" fill="#5fb8ab"/>
<circle class="p" cx="172.6" cy="380.6" r="1.7" fill="#5fb8ab"/>
<path class="e" d="M172.5,357.1V386.7M171.0,357.1h3M171.0,386.7h3"/>
<circle class="p" cx="179.5" cy="408.2" r="1.7" fill="#b0dcea"/>
<circle class="p" cx="179.5" cy="417.4" r="1.7" fill="#b0dcea"/>
<circle class="p" cx="179.5" cy="440.9" r="1.7" fill="#b0dcea"/>
<path class="e" d="M179.5,405.1V439.9M178.0,405.1h3M178.0,439.9h3"/>
<circle class="p" cx="193.3" cy="380.2" r="1.7" fill="#7088d4"/>
<circle class="p" cx="193.3" cy="381.6" r="1.7" fill="#7088d4"/>
<circle class="p" cx="193.3" cy="392.9" r="1.7" fill="#7088d4"/>
<path class="e" d="M193.5,378.2V393.9M192.0,378.2h3M192.0,393.9h3"/>
<circle class="p" cx="200.2" cy="350.4" r="1.7" fill="#4f95cf"/>
<circle class="p" cx="200.2" cy="351.6" r="1.7" fill="#4f95cf"/>
<path class="e" d="M200.5,350.0V353.0M199.0,350.0h3M199.0,353.0h3"/>
<circle class="p" cx="207.2" cy="338.3" r="1.7" fill="#5fb8ab"/>
<circle class="p" cx="207.2" cy="355.1" r="1.7" fill="#5fb8ab"/>
<circle class="p" cx="207.2" cy="364.3" r="1.7" fill="#5fb8ab"/>
<path class="e" d="M207.5,339.3V365.3M206.0,339.3h3M206.0,365.3h3"/>
<circle class="p" cx="214.1" cy="421.1" r="1.7" fill="#b0dcea"/>
<circle class="p" cx="214.1" cy="433.8" r="1.7" fill="#b0dcea"/>
<circle class="p" cx="214.1" cy="437.8" r="1.7" fill="#b0dcea"/>
<path class="e" d="M214.5,421.5V439.5M213.0,421.5h3M213.0,439.5h3"/>
<circle class="p" cx="227.9" cy="375.5" r="1.7" fill="#7088d4"/>
<circle class="p" cx="227.9" cy="382.7" r="1.7" fill="#7088d4"/>
<circle class="p" cx="227.9" cy="384.7" r="1.7" fill="#7088d4"/>
<path class="e" d="M227.5,375.5V385.3M226.0,375.5h3M226.0,385.3h3"/>
<circle class="p" cx="234.8" cy="348.3" r="1.7" fill="#4f95cf"/>
<circle class="p" cx="234.8" cy="350.4" r="1.7" fill="#4f95cf"/>
<path class="e" d="M234.5,347.9V351.6M233.0,347.9h3M233.0,351.6h3"/>
<circle class="p" cx="241.7" cy="346.5" r="1.7" fill="#5fb8ab"/>
<circle class="p" cx="241.7" cy="356.1" r="1.7" fill="#5fb8ab"/>
<circle class="p" cx="241.7" cy="368.4" r="1.7" fill="#5fb8ab"/>
<path class="e" d="M241.5,346.9V368.0M240.0,346.9h3M240.0,368.0h3"/>
<circle class="p" cx="248.7" cy="420.5" r="1.7" fill="#b0dcea"/>
<circle class="p" cx="248.7" cy="425.2" r="1.7" fill="#b0dcea"/>
<path class="e" d="M248.5,420.5V427.2M247.0,420.5h3M247.0,427.2h3"/>
<circle class="p" cx="262.5" cy="398.0" r="1.7" fill="#7088d4"/>
<circle class="p" cx="262.5" cy="399.4" r="1.7" fill="#7088d4"/>
<path class="e" d="M262.5,397.6V400.6M261.0,397.6h3M261.0,400.6h3"/>
<circle class="p" cx="269.4" cy="337.1" r="1.7" fill="#4f95cf"/>
<circle class="p" cx="269.4" cy="338.7" r="1.7" fill="#4f95cf"/>
<path class="e" d="M269.5,336.7V340.4M268.0,336.7h3M268.0,340.4h3"/>
<circle class="p" cx="276.3" cy="382.0" r="1.7" fill="#5fb8ab"/>
<circle class="p" cx="276.3" cy="386.1" r="1.7" fill="#5fb8ab"/>
<path class="e" d="M276.5,382.0V387.2M275.0,382.0h3M275.0,387.2h3"/>
<circle class="p" cx="283.2" cy="413.3" r="1.7" fill="#b0dcea"/>
<circle class="p" cx="283.2" cy="416.4" r="1.7" fill="#b0dcea"/>
<path class="e" d="M283.5,412.7V417.4M282.0,412.7h3M282.0,417.4h3"/>
<circle class="p" cx="297.1" cy="347.3" r="1.7" fill="#7088d4"/>
<circle class="p" cx="297.1" cy="362.8" r="1.7" fill="#7088d4"/>
<circle class="p" cx="297.1" cy="392.9" r="1.7" fill="#7088d4"/>
<circle class="p" cx="297.1" cy="394.9" r="1.7" fill="#7088d4"/>
<circle class="p" cx="297.1" cy="403.1" r="1.7" fill="#7088d4"/>
<path class="e" d="M297.5,356.1V404.7M296.0,356.1h3M296.0,404.7h3"/>
<circle class="p" cx="304.0" cy="327.1" r="1.7" fill="#4f95cf"/>
<circle class="p" cx="304.0" cy="341.8" r="1.7" fill="#4f95cf"/>
<circle class="p" cx="304.0" cy="343.8" r="1.7" fill="#4f95cf"/>
<circle class="p" cx="304.0" cy="347.9" r="1.7" fill="#4f95cf"/>
<circle class="p" cx="304.0" cy="360.2" r="1.7" fill="#4f95cf"/>
<path class="e" d="M303.5,331.6V356.1M302.0,331.6h3M302.0,356.1h3"/>
<circle class="p" cx="310.9" cy="318.7" r="1.7" fill="#5fb8ab"/>
<circle class="p" cx="310.9" cy="334.2" r="1.7" fill="#5fb8ab"/>
<circle class="p" cx="310.9" cy="359.2" r="1.7" fill="#5fb8ab"/>
<circle class="p" cx="310.9" cy="397.0" r="1.7" fill="#5fb8ab"/>
<circle class="p" cx="310.9" cy="405.1" r="1.7" fill="#5fb8ab"/>
<path class="e" d="M310.5,324.4V400.6M309.0,324.4h3M309.0,400.6h3"/>
<circle class="p" cx="317.8" cy="360.2" r="1.7" fill="#b0dcea"/>
<circle class="p" cx="317.8" cy="378.0" r="1.7" fill="#b0dcea"/>
<circle class="p" cx="317.8" cy="420.9" r="1.7" fill="#b0dcea"/>
<circle class="p" cx="317.8" cy="425.6" r="1.7" fill="#b0dcea"/>
<circle class="p" cx="317.8" cy="429.7" r="1.7" fill="#b0dcea"/>
<path class="e" d="M317.5,371.0V431.7M316.0,371.0h3M316.0,431.7h3"/>
<rect x="48.60" y="311.00" width="276.10" height="160.20" fill="none" stroke="#262626" stroke-width="1.0"/>
<text x="46.10" y="475.70" font-size="12.5" text-anchor="end" fill="#1a1a1a" font-family="'DejaVu Sans','Liberation Sans',sans-serif" font-weight="bold">0</text>
<text x="46.10" y="438.00" font-size="12.5" text-anchor="end" fill="#1a1a1a" font-family="'DejaVu Sans','Liberation Sans',sans-serif" font-weight="bold">0.2</text>
<text x="46.10" y="400.20" font-size="12.5" text-anchor="end" fill="#1a1a1a" font-family="'DejaVu Sans','Liberation Sans',sans-serif" font-weight="bold">0.4</text>
<text x="46.10" y="362.40" font-size="12.5" text-anchor="end" fill="#1a1a1a" font-family="'DejaVu Sans','Liberation Sans',sans-serif" font-weight="bold">0.6</text>
<text x="46.10" y="324.00" font-size="12.5" text-anchor="end" fill="#1a1a1a" font-family="'DejaVu Sans','Liberation Sans',sans-serif" font-weight="bold">0.8</text>
<text x="65.34" y="484.20" font-size="12.8" text-anchor="middle" fill="#1a1a1a" font-family="'DejaVu Sans','Liberation Sans',sans-serif" font-weight="bold">G</text>
<text x="99.93" y="484.20" font-size="12.8" text-anchor="middle" fill="#1a1a1a" font-family="'DejaVu Sans','Liberation Sans',sans-serif" font-weight="bold">F</text>
<text x="134.52" y="484.20" font-size="12.8" text-anchor="middle" fill="#1a1a1a" font-family="'DejaVu Sans','Liberation Sans',sans-serif" font-weight="bold">K</text>
<text x="169.11" y="484.20" font-size="12.8" text-anchor="middle" fill="#1a1a1a" font-family="'DejaVu Sans','Liberation Sans',sans-serif" font-weight="bold">T</text>
<text x="203.69" y="484.20" font-size="12.8" text-anchor="middle" fill="#1a1a1a" font-family="'DejaVu Sans','Liberation Sans',sans-serif" font-weight="bold">D</text>
<text x="238.28" y="484.20" font-size="12.8" text-anchor="middle" fill="#1a1a1a" font-family="'DejaVu Sans','Liberation Sans',sans-serif" font-weight="bold">P</text>
<text x="272.87" y="484.20" font-size="12.8" text-anchor="middle" fill="#1a1a1a" font-family="'DejaVu Sans','Liberation Sans',sans-serif" font-weight="bold">M</text>
<text x="307.06" y="484.20" font-size="12.8" text-anchor="middle" fill="#1a1a1a" font-family="'DejaVu Sans','Liberation Sans',sans-serif" font-weight="bold">M<tspan font-size="8.70" dy="3.20">5CV</tspan></text>
<text x="19.00" y="391.00" font-size="14.3" text-anchor="middle" fill="#1a1a1a" font-family="'DejaVu Sans','Liberation Sans',sans-serif" font-weight="bold" transform="rotate(-90 19.00 391.00)">Value</text>
<text x="186.65" y="301.60" font-size="14.9" text-anchor="middle" fill="#1a1a1a" font-family="'DejaVu Sans','Liberation Sans',sans-serif" font-weight="bold">Kinase-drug cold-start</text>
<rect x="115.90" y="318.90" width="11.90" height="5.90" fill="#6678ad" stroke="none" stroke-width="1"/>
<text x="135.00" y="325.08" font-size="8.85" text-anchor="start" fill="#1a1a1a" font-family="'DejaVu Sans','Liberation Sans',sans-serif" font-weight="bold">MAE</text>
<rect x="161.70" y="318.90" width="11.90" height="5.90" fill="#4a80ad" stroke="none" stroke-width="1"/>
<text x="180.50" y="325.08" font-size="8.85" text-anchor="start" fill="#1a1a1a" font-family="'DejaVu Sans','Liberation Sans',sans-serif" font-weight="bold">CI</text>
<rect x="197.90" y="318.90" width="11.90" height="5.90" fill="#55998f" stroke="none" stroke-width="1"/>
<text x="216.90" y="325.08" font-size="8.85" text-anchor="start" fill="#1a1a1a" font-family="'DejaVu Sans','Liberation Sans',sans-serif" font-weight="bold">MSE</text>
<rect x="242.20" y="318.90" width="11.90" height="5.90" fill="#9cc1ce" stroke="none" stroke-width="1"/>
<text x="261.20" y="325.08" font-size="8.85" text-anchor="start" fill="#1a1a1a" font-family="'DejaVu Sans','Liberation Sans',sans-serif" font-weight="bold">PCC</text>
<text x="0.30" y="303.60" font-size="21" text-anchor="start" fill="#000" font-family="'Liberation Sans','DejaVu Sans',sans-serif" font-weight="bold">(c)</text>
<rect x="48.60" y="519.60" width="276.10" height="160.00" fill="#fff" stroke="none" stroke-width="1"/>
<rect x="51.93" y="596.80" width="6.08" height="82.80" fill="#6678ad" stroke="#6678ad" stroke-width="0.3" stroke-opacity=".35"/>
<rect x="58.85" y="585.60" width="6.08" height="94.00" fill="#4a80ad" stroke="#4a80ad" stroke-width="0.3" stroke-opacity=".35"/>
<rect x="65.76" y="557.10" width="6.08" height="122.50" fill="#55998f" stroke="#55998f" stroke-width="0.3" stroke-opacity=".35"/>
<rect x="72.68" y="599.00" width="6.08" height="80.60" fill="#9cc1ce" stroke="#9cc1ce" stroke-width="0.3" stroke-opacity=".35"/>
<rect x="86.52" y="602.90" width="6.08" height="76.70" fill="#6678ad" stroke="#6678ad" stroke-width="0.3" stroke-opacity=".35"/>
<rect x="93.43" y="578.00" width="6.08" height="101.60" fill="#4a80ad" stroke="#4a80ad" stroke-width="0.3" stroke-opacity=".35"/>
<rect x="100.35" y="580.40" width="6.08" height="99.20" fill="#55998f" stroke="#55998f" stroke-width="0.3" stroke-opacity=".35"/>
<rect x="107.27" y="609.10" width="6.08" height="70.50" fill="#9cc1ce" stroke="#9cc1ce" stroke-width="0.3" stroke-opacity=".35"/>
<rect x="121.10" y="590.90" width="6.08" height="88.70" fill="#6678ad" stroke="#6678ad" stroke-width="0.3" stroke-opacity=".35"/>
<rect x="128.02" y="587.60" width="6.08" height="92.00" fill="#4a80ad" stroke="#4a80ad" stroke-width="0.3" stroke-opacity=".35"/>
<rect x="134.94" y="561.00" width="6.08" height="118.60" fill="#55998f" stroke="#55998f" stroke-width="0.3" stroke-opacity=".35"/>
<rect x="141.86" y="636.20" width="6.08" height="43.40" fill="#9cc1ce" stroke="#9cc1ce" stroke-width="0.3" stroke-opacity=".35"/>
<rect x="155.69" y="567.00" width="6.08" height="112.60" fill="#6678ad" stroke="#6678ad" stroke-width="0.3" stroke-opacity=".35"/>
<rect x="162.61" y="576.20" width="6.08" height="103.40" fill="#4a80ad" stroke="#4a80ad" stroke-width="0.3" stroke-opacity=".35"/>
<rect x="169.53" y="572.30" width="6.08" height="107.30" fill="#55998f" stroke="#55998f" stroke-width="0.3" stroke-opacity=".35"/>
<rect x="176.44" y="614.20" width="6.08" height="65.40" fill="#9cc1ce" stroke="#9cc1ce" stroke-width="0.3" stroke-opacity=".35"/>
<rect x="190.28" y="614.80" width="6.08" height="64.80" fill="#6678ad" stroke="#6678ad" stroke-width="0.3" stroke-opacity=".35"/>
<rect x="197.20" y="574.10" width="6.08" height="105.50" fill="#4a80ad" stroke="#4a80ad" stroke-width="0.3" stroke-opacity=".35"/>
<rect x="204.11" y="598.20" width="6.08" height="81.40" fill="#55998f" stroke="#55998f" stroke-width="0.3" stroke-opacity=".35"/>
<rect x="211.03" y="611.10" width="6.08" height="68.50" fill="#9cc1ce" stroke="#9cc1ce" stroke-width="0.3" stroke-opacity=".35"/>
<rect x="224.87" y="608.00" width="6.08" height="71.60" fill="#6678ad" stroke="#6678ad" stroke-width="0.3" stroke-opacity=".35"/>
<rect x="231.78" y="579.20" width="6.08" height="100.40" fill="#4a80ad" stroke="#4a80ad" stroke-width="0.3" stroke-opacity=".35"/>
<rect x="238.70" y="581.10" width="6.08" height="98.50" fill="#55998f" stroke="#55998f" stroke-width="0.3" stroke-opacity=".35"/>
<rect x="245.62" y="600.30" width="6.08" height="79.30" fill="#9cc1ce" stroke="#9cc1ce" stroke-width="0.3" stroke-opacity=".35"/>
<rect x="259.45" y="626.00" width="6.08" height="53.60" fill="#6678ad" stroke="#6678ad" stroke-width="0.3" stroke-opacity=".35"/>
<rect x="266.37" y="570.80" width="6.08" height="108.80" fill="#4a80ad" stroke="#4a80ad" stroke-width="0.3" stroke-opacity=".35"/>
<rect x="273.29" y="618.30" width="6.08" height="61.30" fill="#55998f" stroke="#55998f" stroke-width="0.3" stroke-opacity=".35"/>
<rect x="280.21" y="602.90" width="6.08" height="76.70" fill="#9cc1ce" stroke="#9cc1ce" stroke-width="0.3" stroke-opacity=".35"/>
<rect x="294.04" y="608.00" width="6.08" height="71.60" fill="#6678ad" stroke="#6678ad" stroke-width="0.3" stroke-opacity=".35"/>
<rect x="300.96" y="577.40" width="6.08" height="102.20" fill="#4a80ad" stroke="#4a80ad" stroke-width="0.3" stroke-opacity=".35"/>
<rect x="307.88" y="594.10" width="6.08" height="85.50" fill="#55998f" stroke="#55998f" stroke-width="0.3" stroke-opacity=".35"/>
<rect x="314.79" y="616.20" width="6.08" height="63.40" fill="#9cc1ce" stroke="#9cc1ce" stroke-width="0.3" stroke-opacity=".35"/>
<circle class="p" cx="55.0" cy="595.2" r="1.7" fill="#7088d4"/>
<circle class="p" cx="55.0" cy="596.8" r="1.7" fill="#7088d4"/>
<path class="e" d="M54.5,594.7V597.8M53.0,594.7h3M53.0,597.8h3"/>
<circle class="p" cx="61.9" cy="578.4" r="1.7" fill="#4f95cf"/>
<circle class="p" cx="61.9" cy="587.6" r="1.7" fill="#4f95cf"/>
<circle class="p" cx="61.9" cy="591.7" r="1.7" fill="#4f95cf"/>
<path class="e" d="M61.5,578.4V592.7M60.0,578.4h3M60.0,592.7h3"/>
<circle class="p" cx="68.8" cy="526.9" r="1.7" fill="#5fb8ab"/>
<circle class="p" cx="68.8" cy="565.1" r="1.7" fill="#5fb8ab"/>
<circle class="p" cx="68.8" cy="579.4" r="1.7" fill="#5fb8ab"/>
<path class="e" d="M68.5,530.0V584.1M67.0,530.0h3M67.0,584.1h3"/>
<circle class="p" cx="75.7" cy="584.5" r="1.7" fill="#b0dcea"/>
<circle class="p" cx="75.7" cy="601.3" r="1.7" fill="#b0dcea"/>
<circle class="p" cx="75.7" cy="610.1" r="1.7" fill="#b0dcea"/>
<path class="e" d="M75.5,584.9V611.1M74.0,584.9h3M74.0,611.1h3"/>
<circle class="p" cx="89.6" cy="601.3" r="1.7" fill="#7088d4"/>
<circle class="p" cx="89.6" cy="602.9" r="1.7" fill="#7088d4"/>
<path class="e" d="M89.5,600.9V604.2M88.0,600.9h3M88.0,604.2h3"/>
<circle class="p" cx="96.5" cy="576.6" r="1.7" fill="#4f95cf"/>
<circle class="p" cx="96.5" cy="578.0" r="1.7" fill="#4f95cf"/>
<path class="e" d="M96.5,576.4V579.2M95.0,576.4h3M95.0,579.2h3"/>
<circle class="p" cx="103.4" cy="579.0" r="1.7" fill="#5fb8ab"/>
<circle class="p" cx="103.4" cy="580.4" r="1.7" fill="#5fb8ab"/>
<path class="e" d="M103.5,578.8V581.7M102.0,578.8h3M102.0,581.7h3"/>
<circle class="p" cx="110.3" cy="608.2" r="1.7" fill="#b0dcea"/>
<path class="e" d="M110.5,608.0V609.9M109.0,608.0h3M109.0,609.9h3"/>
<circle class="p" cx="124.1" cy="582.9" r="1.7" fill="#7088d4"/>
<circle class="p" cx="124.1" cy="591.7" r="1.7" fill="#7088d4"/>
<circle class="p" cx="124.1" cy="593.7" r="1.7" fill="#7088d4"/>
<path class="e" d="M124.5,583.1V596.8M123.0,583.1h3M123.0,596.8h3"/>
<circle class="p" cx="131.1" cy="585.6" r="1.7" fill="#4f95cf"/>
<circle class="p" cx="131.1" cy="587.8" r="1.7" fill="#4f95cf"/>
<path class="e" d="M131.5,585.1V589.0M130.0,585.1h3M130.0,589.0h3"/>
<circle class="p" cx="138.0" cy="558.4" r="1.7" fill="#5fb8ab"/>
<circle class="p" cx="138.0" cy="561.4" r="1.7" fill="#5fb8ab"/>
<path class="e" d="M137.5,558.4V562.7M136.0,558.4h3M136.0,562.7h3"/>
<circle class="p" cx="144.9" cy="632.6" r="1.7" fill="#b0dcea"/>
<circle class="p" cx="144.9" cy="636.6" r="1.7" fill="#b0dcea"/>
<path class="e" d="M144.5,633.2V638.7M143.0,633.2h3M143.0,638.7h3"/>
<circle class="p" cx="158.7" cy="552.9" r="1.7" fill="#7088d4"/>
<circle class="p" cx="158.7" cy="566.1" r="1.7" fill="#7088d4"/>
<circle class="p" cx="158.7" cy="579.4" r="1.7" fill="#7088d4"/>
<path class="e" d="M158.5,553.5V580.4M157.0,553.5h3M157.0,580.4h3"/>
<circle class="p" cx="165.6" cy="572.7" r="1.7" fill="#4f95cf"/>
<circle class="p" cx="165.6" cy="576.8" r="1.7" fill="#4f95cf"/>
<path class="e" d="M165.5,572.7V578.4M164.0,572.7h3M164.0,578.4h3"/>
<circle class="p" cx="172.6" cy="549.8" r="1.7" fill="#5fb8ab"/>
<circle class="p" cx="172.6" cy="578.4" r="1.7" fill="#5fb8ab"/>
<circle class="p" cx="172.6" cy="588.6" r="1.7" fill="#5fb8ab"/>
<path class="e" d="M172.5,550.8V592.7M171.0,550.8h3M171.0,592.7h3"/>
<circle class="p" cx="179.5" cy="610.7" r="1.7" fill="#b0dcea"/>
<circle class="p" cx="179.5" cy="615.2" r="1.7" fill="#b0dcea"/>
<circle class="p" cx="179.5" cy="618.3" r="1.7" fill="#b0dcea"/>
<path class="e" d="M179.5,609.1V619.3M178.0,609.1h3M178.0,619.3h3"/>
<circle class="p" cx="193.3" cy="606.6" r="1.7" fill="#7088d4"/>
<circle class="p" cx="193.3" cy="617.2" r="1.7" fill="#7088d4"/>
<circle class="p" cx="193.3" cy="619.3" r="1.7" fill="#7088d4"/>
<path class="e" d="M193.5,607.4V620.9M192.0,607.4h3M192.0,620.9h3"/>
<circle class="p" cx="200.2" cy="569.8" r="1.7" fill="#4f95cf"/>
<circle class="p" cx="200.2" cy="574.3" r="1.7" fill="#4f95cf"/>
<circle class="p" cx="200.2" cy="578.8" r="1.7" fill="#4f95cf"/>
<path class="e" d="M200.5,568.6V580.4M199.0,568.6h3M199.0,580.4h3"/>
<circle class="p" cx="207.2" cy="579.8" r="1.7" fill="#5fb8ab"/>
<circle class="p" cx="207.2" cy="602.9" r="1.7" fill="#5fb8ab"/>
<circle class="p" cx="207.2" cy="609.1" r="1.7" fill="#5fb8ab"/>
<path class="e" d="M207.5,579.4V614.2M206.0,579.4h3M206.0,614.2h3"/>
<circle class="p" cx="214.1" cy="607.0" r="1.7" fill="#b0dcea"/>
<circle class="p" cx="214.1" cy="612.1" r="1.7" fill="#b0dcea"/>
<circle class="p" cx="214.1" cy="614.2" r="1.7" fill="#b0dcea"/>
<path class="e" d="M214.5,606.6V615.6M213.0,606.6h3M213.0,615.6h3"/>
<circle class="p" cx="227.9" cy="599.9" r="1.7" fill="#7088d4"/>
<circle class="p" cx="227.9" cy="605.0" r="1.7" fill="#7088d4"/>
<circle class="p" cx="227.9" cy="617.2" r="1.7" fill="#7088d4"/>
<path class="e" d="M227.5,598.8V617.2M226.0,598.8h3M226.0,617.2h3"/>
<circle class="p" cx="234.8" cy="575.3" r="1.7" fill="#4f95cf"/>
<circle class="p" cx="234.8" cy="580.4" r="1.7" fill="#4f95cf"/>
<path class="e" d="M234.5,575.3V582.5M233.0,575.3h3M233.0,582.5h3"/>
<circle class="p" cx="241.7" cy="578.0" r="1.7" fill="#5fb8ab"/>
<circle class="p" cx="241.7" cy="581.5" r="1.7" fill="#5fb8ab"/>
<circle class="p" cx="241.7" cy="585.6" r="1.7" fill="#5fb8ab"/>
<path class="e" d="M241.5,576.8V585.6M240.0,576.8h3M240.0,585.6h3"/>
<circle class="p" cx="248.7" cy="596.8" r="1.7" fill="#b0dcea"/>
<circle class="p" cx="248.7" cy="601.3" r="1.7" fill="#b0dcea"/>
<path class="e" d="M248.5,595.8V603.9M247.0,595.8h3M247.0,603.9h3"/>
<circle class="p" cx="262.5" cy="613.8" r="1.7" fill="#7088d4"/>
<circle class="p" cx="262.5" cy="629.5" r="1.7" fill="#7088d4"/>
<circle class="p" cx="262.5" cy="632.6" r="1.7" fill="#7088d4"/>
<path class="e" d="M262.5,615.2V635.6M261.0,615.2h3M261.0,635.6h3"/>
<circle class="p" cx="269.4" cy="566.5" r="1.7" fill="#4f95cf"/>
<circle class="p" cx="269.4" cy="571.7" r="1.7" fill="#4f95cf"/>
<path class="e" d="M269.5,566.5V573.5M268.0,566.5h3M268.0,573.5h3"/>
<circle class="p" cx="276.3" cy="617.2" r="1.7" fill="#5fb8ab"/>
<circle class="p" cx="276.3" cy="618.3" r="1.7" fill="#5fb8ab"/>
<path class="e" d="M276.5,616.6V619.3M275.0,616.6h3M275.0,619.3h3"/>
<circle class="p" cx="283.2" cy="600.9" r="1.7" fill="#b0dcea"/>
<circle class="p" cx="283.2" cy="602.9" r="1.7" fill="#b0dcea"/>
<path class="e" d="M283.5,600.5V604.4M282.0,600.5h3M282.0,604.4h3"/>
<circle class="p" cx="297.1" cy="594.3" r="1.7" fill="#7088d4"/>
<circle class="p" cx="297.1" cy="603.9" r="1.7" fill="#7088d4"/>
<circle class="p" cx="297.1" cy="614.2" r="1.7" fill="#7088d4"/>
<circle class="p" cx="297.1" cy="619.3" r="1.7" fill="#7088d4"/>
<path class="e" d="M297.5,596.8V620.3M296.0,596.8h3M296.0,620.3h3"/>
<circle class="p" cx="304.0" cy="570.8" r="1.7" fill="#4f95cf"/>
<circle class="p" cx="304.0" cy="573.9" r="1.7" fill="#4f95cf"/>
<circle class="p" cx="304.0" cy="580.4" r="1.7" fill="#4f95cf"/>
<circle class="p" cx="304.0" cy="586.6" r="1.7" fill="#4f95cf"/>
<path class="e" d="M303.5,571.2V584.1M302.0,571.2h3M302.0,584.1h3"/>
<circle class="p" cx="310.9" cy="552.9" r="1.7" fill="#5fb8ab"/>
<circle class="p" cx="310.9" cy="580.4" r="1.7" fill="#5fb8ab"/>
<circle class="p" cx="310.9" cy="605.0" r="1.7" fill="#5fb8ab"/>
<circle class="p" cx="310.9" cy="611.1" r="1.7" fill="#5fb8ab"/>
<circle class="p" cx="310.9" cy="619.3" r="1.7" fill="#5fb8ab"/>
<path class="e" d="M310.5,566.1V620.3M309.0,566.1h3M309.0,620.3h3"/>
<circle class="p" cx="317.8" cy="598.8" r="1.7" fill="#b0dcea"/>
<circle class="p" cx="317.8" cy="610.7" r="1.7" fill="#b0dcea"/>
<circle class="p" cx="317.8" cy="633.6" r="1.7" fill="#b0dcea"/>
<circle class="p" cx="317.8" cy="637.3" r="1.7" fill="#b0dcea"/>
<path class="e" d="M317.5,597.2V634.6M316.0,597.2h3M316.0,634.6h3"/>
<rect x="48.60" y="519.60" width="276.10" height="160.00" fill="none" stroke="#262626" stroke-width="1.0"/>
<text x="46.10" y="683.90" font-size="12.5" text-anchor="end" fill="#1a1a1a" font-family="'DejaVu Sans','Liberation Sans',sans-serif" font-weight="bold">0</text>
<text x="46.10" y="655.20" font-size="12.5" text-anchor="end" fill="#1a1a1a" font-family="'DejaVu Sans','Liberation Sans',sans-serif" font-weight="bold">0.2</text>
<text x="46.10" y="626.50" font-size="12.5" text-anchor="end" fill="#1a1a1a" font-family="'DejaVu Sans','Liberation Sans',sans-serif" font-weight="bold">0.4</text>
<text x="46.10" y="597.80" font-size="12.5" text-anchor="end" fill="#1a1a1a" font-family="'DejaVu Sans','Liberation Sans',sans-serif" font-weight="bold">0.6</text>
<text x="46.10" y="569.10" font-size="12.5" text-anchor="end" fill="#1a1a1a" font-family="'DejaVu Sans','Liberation Sans',sans-serif" font-weight="bold">0.8</text>
<text x="46.10" y="540.40" font-size="12.5" text-anchor="end" fill="#1a1a1a" font-family="'DejaVu Sans','Liberation Sans',sans-serif" font-weight="bold">1</text>
<text x="65.34" y="692.60" font-size="12.8" text-anchor="middle" fill="#1a1a1a" font-family="'DejaVu Sans','Liberation Sans',sans-serif" font-weight="bold">G</text>
<text x="99.93" y="692.60" font-size="12.8" text-anchor="middle" fill="#1a1a1a" font-family="'DejaVu Sans','Liberation Sans',sans-serif" font-weight="bold">F</text>
<text x="134.52" y="692.60" font-size="12.8" text-anchor="middle" fill="#1a1a1a" font-family="'DejaVu Sans','Liberation Sans',sans-serif" font-weight="bold">K</text>
<text x="169.11" y="692.60" font-size="12.8" text-anchor="middle" fill="#1a1a1a" font-family="'DejaVu Sans','Liberation Sans',sans-serif" font-weight="bold">T</text>
<text x="203.69" y="692.60" font-size="12.8" text-anchor="middle" fill="#1a1a1a" font-family="'DejaVu Sans','Liberation Sans',sans-serif" font-weight="bold">D</text>
<text x="238.28" y="692.60" font-size="12.8" text-anchor="middle" fill="#1a1a1a" font-family="'DejaVu Sans','Liberation Sans',sans-serif" font-weight="bold">P</text>
<text x="272.87" y="692.60" font-size="12.8" text-anchor="middle" fill="#1a1a1a" font-family="'DejaVu Sans','Liberation Sans',sans-serif" font-weight="bold">M</text>
<text x="307.06" y="692.60" font-size="12.8" text-anchor="middle" fill="#1a1a1a" font-family="'DejaVu Sans','Liberation Sans',sans-serif" font-weight="bold">M<tspan font-size="8.70" dy="3.20">5CV</tspan></text>
<text x="19.00" y="600.00" font-size="14.3" text-anchor="middle" fill="#1a1a1a" font-family="'DejaVu Sans','Liberation Sans',sans-serif" font-weight="bold" transform="rotate(-90 19.00 600.00)">Value</text>
<text x="186.65" y="509.60" font-size="14.9" text-anchor="middle" fill="#1a1a1a" font-family="'DejaVu Sans','Liberation Sans',sans-serif" font-weight="bold">Drug cold-start</text>
<rect x="115.90" y="527.90" width="11.90" height="5.90" fill="#6678ad" stroke="none" stroke-width="1"/>
<text x="135.00" y="534.08" font-size="8.85" text-anchor="start" fill="#1a1a1a" font-family="'DejaVu Sans','Liberation Sans',sans-serif" font-weight="bold">MAE</text>
<rect x="161.70" y="527.90" width="11.90" height="5.90" fill="#4a80ad" stroke="none" stroke-width="1"/>
<text x="180.50" y="534.08" font-size="8.85" text-anchor="start" fill="#1a1a1a" font-family="'DejaVu Sans','Liberation Sans',sans-serif" font-weight="bold">CI</text>
<rect x="197.90" y="527.90" width="11.90" height="5.90" fill="#55998f" stroke="none" stroke-width="1"/>
<text x="216.90" y="534.08" font-size="8.85" text-anchor="start" fill="#1a1a1a" font-family="'DejaVu Sans','Liberation Sans',sans-serif" font-weight="bold">MSE</text>
<rect x="242.20" y="527.90" width="11.90" height="5.90" fill="#9cc1ce" stroke="none" stroke-width="1"/>
<text x="261.20" y="534.08" font-size="8.85" text-anchor="start" fill="#1a1a1a" font-family="'DejaVu Sans','Liberation Sans',sans-serif" font-weight="bold">PCC</text>
<rect x="48.60" y="727.50" width="276.10" height="160.50" fill="#fff" stroke="none" stroke-width="1"/>
<rect x="51.93" y="802.50" width="6.08" height="85.50" fill="#6678ad" stroke="#6678ad" stroke-width="0.3" stroke-opacity=".35"/>
<rect x="58.85" y="805.20" width="6.08" height="82.80" fill="#4a80ad" stroke="#4a80ad" stroke-width="0.3" stroke-opacity=".35"/>
<rect x="65.76" y="773.50" width="6.08" height="114.50" fill="#55998f" stroke="#55998f" stroke-width="0.3" stroke-opacity=".35"/>
<rect x="72.68" y="860.60" width="6.08" height="27.40" fill="#9cc1ce" stroke="#9cc1ce" stroke-width="0.3" stroke-opacity=".35"/>
<rect x="86.52" y="840.10" width="6.08" height="47.90" fill="#6678ad" stroke="#6678ad" stroke-width="0.3" stroke-opacity=".35"/>
<rect x="93.43" y="773.70" width="6.08" height="114.30" fill="#4a80ad" stroke="#4a80ad" stroke-width="0.3" stroke-opacity=".35"/>
<rect x="100.35" y="839.10" width="6.08" height="48.90" fill="#55998f" stroke="#55998f" stroke-width="0.3" stroke-opacity=".35"/>
<rect x="107.27" y="798.30" width="6.08" height="89.70" fill="#9cc1ce" stroke="#9cc1ce" stroke-width="0.3" stroke-opacity=".35"/>
<rect x="121.10" y="824.00" width="6.08" height="64.00" fill="#6678ad" stroke="#6678ad" stroke-width="0.3" stroke-opacity=".35"/>
<rect x="128.02" y="790.90" width="6.08" height="97.10" fill="#4a80ad" stroke="#4a80ad" stroke-width="0.3" stroke-opacity=".35"/>
<rect x="134.94" y="814.60" width="6.08" height="73.40" fill="#55998f" stroke="#55998f" stroke-width="0.3" stroke-opacity=".35"/>
<rect x="141.86" y="834.80" width="6.08" height="53.20" fill="#9cc1ce" stroke="#9cc1ce" stroke-width="0.3" stroke-opacity=".35"/>
<rect x="155.69" y="838.90" width="6.08" height="49.10" fill="#6678ad" stroke="#6678ad" stroke-width="0.3" stroke-opacity=".35"/>
<rect x="162.61" y="779.00" width="6.08" height="109.00" fill="#4a80ad" stroke="#4a80ad" stroke-width="0.3" stroke-opacity=".35"/>
<rect x="169.53" y="840.40" width="6.08" height="47.60" fill="#55998f" stroke="#55998f" stroke-width="0.3" stroke-opacity=".35"/>
<rect x="176.44" y="807.90" width="6.08" height="80.10" fill="#9cc1ce" stroke="#9cc1ce" stroke-width="0.3" stroke-opacity=".35"/>
<rect x="190.28" y="832.40" width="6.08" height="55.60" fill="#6678ad" stroke="#6678ad" stroke-width="0.3" stroke-opacity=".35"/>
<rect x="197.20" y="785.20" width="6.08" height="102.80" fill="#4a80ad" stroke="#4a80ad" stroke-width="0.3" stroke-opacity=".35"/>
<rect x="204.11" y="816.20" width="6.08" height="71.80" fill="#55998f" stroke="#55998f" stroke-width="0.3" stroke-opacity=".35"/>
<rect x="211.03" y="817.70" width="6.08" height="70.30" fill="#9cc1ce" stroke="#9cc1ce" stroke-width="0.3" stroke-opacity=".35"/>
<rect x="224.87" y="850.60" width="6.08" height="37.40" fill="#6678ad" stroke="#6678ad" stroke-width="0.3" stroke-opacity=".35"/>
<rect x="231.78" y="772.50" width="6.08" height="115.50" fill="#4a80ad" stroke="#4a80ad" stroke-width="0.3" stroke-opacity=".35"/>
<rect x="238.70" y="843.60" width="6.08" height="44.40" fill="#55998f" stroke="#55998f" stroke-width="0.3" stroke-opacity=".35"/>
<rect x="245.62" y="788.90" width="6.08" height="99.10" fill="#9cc1ce" stroke="#9cc1ce" stroke-width="0.3" stroke-opacity=".35"/>
<rect x="259.45" y="853.20" width="6.08" height="34.80" fill="#6678ad" stroke="#6678ad" stroke-width="0.3" stroke-opacity=".35"/>
<rect x="266.37" y="771.30" width="6.08" height="116.70" fill="#4a80ad" stroke="#4a80ad" stroke-width="0.3" stroke-opacity=".35"/>
<rect x="273.29" y="851.80" width="6.08" height="36.20" fill="#55998f" stroke="#55998f" stroke-width="0.3" stroke-opacity=".35"/>
<rect x="280.21" y="783.50" width="6.08" height="104.50" fill="#9cc1ce" stroke="#9cc1ce" stroke-width="0.3" stroke-opacity=".35"/>
<rect x="294.04" y="847.10" width="6.08" height="40.90" fill="#6678ad" stroke="#6678ad" stroke-width="0.3" stroke-opacity=".35"/>
<rect x="300.96" y="773.50" width="6.08" height="114.50" fill="#4a80ad" stroke="#4a80ad" stroke-width="0.3" stroke-opacity=".35"/>
<rect x="307.88" y="844.90" width="6.08" height="43.10" fill="#55998f" stroke="#55998f" stroke-width="0.3" stroke-opacity=".35"/>
<rect x="314.79" y="786.40" width="6.08" height="101.60" fill="#9cc1ce" stroke="#9cc1ce" stroke-width="0.3" stroke-opacity=".35"/>
<circle class="p" cx="55.0" cy="789.3" r="1.7" fill="#7088d4"/>
<circle class="p" cx="55.0" cy="807.9" r="1.7" fill="#7088d4"/>
<circle class="p" cx="55.0" cy="810.9" r="1.7" fill="#7088d4"/>
<path class="e" d="M54.5,790.5V813.4M53.0,790.5h3M53.0,813.4h3"/>
<circle class="p" cx="61.9" cy="801.7" r="1.7" fill="#4f95cf"/>
<circle class="p" cx="61.9" cy="805.8" r="1.7" fill="#4f95cf"/>
<circle class="p" cx="61.9" cy="807.9" r="1.7" fill="#4f95cf"/>
<path class="e" d="M61.5,801.1V808.9M60.0,801.1h3M60.0,808.9h3"/>
<circle class="p" cx="68.8" cy="735.7" r="1.7" fill="#5fb8ab"/>
<circle class="p" cx="68.8" cy="779.2" r="1.7" fill="#5fb8ab"/>
<circle class="p" cx="68.8" cy="805.8" r="1.7" fill="#5fb8ab"/>
<path class="e" d="M68.5,738.4V808.5M67.0,738.4h3M67.0,808.5h3"/>
<circle class="p" cx="75.7" cy="854.9" r="1.7" fill="#b0dcea"/>
<circle class="p" cx="75.7" cy="857.9" r="1.7" fill="#b0dcea"/>
<circle class="p" cx="75.7" cy="867.1" r="1.7" fill="#b0dcea"/>
<path class="e" d="M75.5,853.8V868.1M74.0,853.8h3M74.0,868.1h3"/>
<circle class="p" cx="89.6" cy="838.5" r="1.7" fill="#7088d4"/>
<circle class="p" cx="89.6" cy="840.1" r="1.7" fill="#7088d4"/>
<path class="e" d="M89.5,838.1V841.2M88.0,838.1h3M88.0,841.2h3"/>
<circle class="p" cx="96.5" cy="772.5" r="1.7" fill="#4f95cf"/>
<circle class="p" cx="96.5" cy="773.7" r="1.7" fill="#4f95cf"/>
<path class="e" d="M96.5,772.1V774.5M95.0,772.1h3M95.0,774.5h3"/>
<circle class="p" cx="103.4" cy="837.9" r="1.7" fill="#5fb8ab"/>
<circle class="p" cx="103.4" cy="839.1" r="1.7" fill="#5fb8ab"/>
<path class="e" d="M103.5,837.5V840.1M102.0,837.5h3M102.0,840.1h3"/>
<circle class="p" cx="110.3" cy="797.6" r="1.7" fill="#b0dcea"/>
<path class="e" d="M110.5,797.0V799.1M109.0,797.0h3M109.0,799.1h3"/>
<circle class="p" cx="124.1" cy="819.1" r="1.7" fill="#7088d4"/>
<circle class="p" cx="124.1" cy="825.2" r="1.7" fill="#7088d4"/>
<circle class="p" cx="124.1" cy="827.3" r="1.7" fill="#7088d4"/>
<path class="e" d="M124.5,819.1V828.3M123.0,819.1h3M123.0,828.3h3"/>
<circle class="p" cx="131.1" cy="789.5" r="1.7" fill="#4f95cf"/>
<circle class="p" cx="131.1" cy="791.1" r="1.7" fill="#4f95cf"/>
<path class="e" d="M131.5,788.9V792.1M130.0,788.9h3M130.0,792.1h3"/>
<circle class="p" cx="138.0" cy="810.9" r="1.7" fill="#5fb8ab"/>
<circle class="p" cx="138.0" cy="815.4" r="1.7" fill="#5fb8ab"/>
<path class="e" d="M137.5,810.9V817.1M136.0,810.9h3M136.0,817.1h3"/>
<circle class="p" cx="144.9" cy="832.0" r="1.7" fill="#b0dcea"/>
<circle class="p" cx="144.9" cy="835.4" r="1.7" fill="#b0dcea"/>
<path class="e" d="M144.5,831.8V837.1M143.0,831.8h3M143.0,837.1h3"/>
<circle class="p" cx="158.7" cy="835.4" r="1.7" fill="#7088d4"/>
<circle class="p" cx="158.7" cy="839.5" r="1.7" fill="#7088d4"/>
<path class="e" d="M158.5,835.4V841.6M157.0,835.4h3M157.0,841.6h3"/>
<circle class="p" cx="165.6" cy="777.6" r="1.7" fill="#4f95cf"/>
<circle class="p" cx="165.6" cy="779.2" r="1.7" fill="#4f95cf"/>
<path class="e" d="M165.5,777.2V780.3M164.0,777.2h3M164.0,780.3h3"/>
<circle class="p" cx="172.6" cy="837.9" r="1.7" fill="#5fb8ab"/>
<circle class="p" cx="172.6" cy="841.0" r="1.7" fill="#5fb8ab"/>
<path class="e" d="M172.5,837.9V842.0M171.0,837.9h3M171.0,842.0h3"/>
<circle class="p" cx="179.5" cy="804.8" r="1.7" fill="#b0dcea"/>
<circle class="p" cx="179.5" cy="808.3" r="1.7" fill="#b0dcea"/>
<path class="e" d="M179.5,804.8V809.9M178.0,804.8h3M178.0,809.9h3"/>
<circle class="p" cx="193.3" cy="829.3" r="1.7" fill="#7088d4"/>
<circle class="p" cx="193.3" cy="832.4" r="1.7" fill="#7088d4"/>
<circle class="p" cx="193.3" cy="835.4" r="1.7" fill="#7088d4"/>
<path class="e" d="M193.5,828.3V837.1M192.0,828.3h3M192.0,837.1h3"/>
<circle class="p" cx="200.2" cy="782.3" r="1.7" fill="#4f95cf"/>
<circle class="p" cx="200.2" cy="786.4" r="1.7" fill="#4f95cf"/>
<path class="e" d="M200.5,781.7V788.0M199.0,781.7h3M199.0,788.0h3"/>
<circle class="p" cx="207.2" cy="813.4" r="1.7" fill="#5fb8ab"/>
<circle class="p" cx="207.2" cy="818.1" r="1.7" fill="#5fb8ab"/>
<path class="e" d="M207.5,812.6V821.1M206.0,812.6h3M206.0,821.1h3"/>
<circle class="p" cx="214.1" cy="814.0" r="1.7" fill="#b0dcea"/>
<circle class="p" cx="214.1" cy="819.1" r="1.7" fill="#b0dcea"/>
<circle class="p" cx="214.1" cy="822.2" r="1.7" fill="#b0dcea"/>
<path class="e" d="M214.5,813.4V822.8M213.0,813.4h3M213.0,822.8h3"/>
<circle class="p" cx="227.9" cy="849.3" r="1.7" fill="#7088d4"/>
<circle class="p" cx="227.9" cy="850.8" r="1.7" fill="#7088d4"/>
<path class="e" d="M227.5,848.7V851.8M226.0,848.7h3M226.0,851.8h3"/>
<circle class="p" cx="234.8" cy="771.1" r="1.7" fill="#4f95cf"/>
<circle class="p" cx="234.8" cy="772.5" r="1.7" fill="#4f95cf"/>
<path class="e" d="M234.5,770.7V773.7M233.0,770.7h3M233.0,773.7h3"/>
<circle class="p" cx="241.7" cy="841.6" r="1.7" fill="#5fb8ab"/>
<circle class="p" cx="241.7" cy="844.2" r="1.7" fill="#5fb8ab"/>
<path class="e" d="M241.5,841.2V845.3M240.0,841.2h3M240.0,845.3h3"/>
<circle class="p" cx="248.7" cy="787.6" r="1.7" fill="#b0dcea"/>
<path class="e" d="M248.5,787.0V789.9M247.0,787.0h3M247.0,789.9h3"/>
<circle class="p" cx="262.5" cy="851.8" r="1.7" fill="#7088d4"/>
<circle class="p" cx="262.5" cy="853.2" r="1.7" fill="#7088d4"/>
<path class="e" d="M262.5,851.2V854.3M261.0,851.2h3M261.0,854.3h3"/>
<circle class="p" cx="269.4" cy="769.6" r="1.7" fill="#4f95cf"/>
<circle class="p" cx="269.4" cy="771.3" r="1.7" fill="#4f95cf"/>
<path class="e" d="M269.5,769.0V772.1M268.0,769.0h3M268.0,772.1h3"/>
<circle class="p" cx="276.3" cy="849.1" r="1.7" fill="#5fb8ab"/>
<circle class="p" cx="276.3" cy="852.2" r="1.7" fill="#5fb8ab"/>
<path class="e" d="M276.5,848.7V853.4M275.0,848.7h3M275.0,853.4h3"/>
<circle class="p" cx="283.2" cy="781.9" r="1.7" fill="#b0dcea"/>
<circle class="p" cx="283.2" cy="783.5" r="1.7" fill="#b0dcea"/>
<path class="e" d="M283.5,781.3V784.8M282.0,781.3h3M282.0,784.8h3"/>
<circle class="p" cx="297.1" cy="840.6" r="1.7" fill="#7088d4"/>
<circle class="p" cx="297.1" cy="846.7" r="1.7" fill="#7088d4"/>
<circle class="p" cx="297.1" cy="848.7" r="1.7" fill="#7088d4"/>
<circle class="p" cx="297.1" cy="850.8" r="1.7" fill="#7088d4"/>
<path class="e" d="M297.5,842.6V851.8M296.0,842.6h3M296.0,851.8h3"/>
<circle class="p" cx="304.0" cy="770.7" r="1.7" fill="#4f95cf"/>
<circle class="p" cx="304.0" cy="772.5" r="1.7" fill="#4f95cf"/>
<circle class="p" cx="304.0" cy="774.1" r="1.7" fill="#4f95cf"/>
<path class="e" d="M303.5,770.0V775.2M302.0,770.0h3M302.0,775.2h3"/>
<circle class="p" cx="310.9" cy="830.3" r="1.7" fill="#5fb8ab"/>
<circle class="p" cx="310.9" cy="843.6" r="1.7" fill="#5fb8ab"/>
<circle class="p" cx="310.9" cy="848.7" r="1.7" fill="#5fb8ab"/>
<circle class="p" cx="310.9" cy="851.8" r="1.7" fill="#5fb8ab"/>
<path class="e" d="M310.5,835.4V853.8M309.0,835.4h3M309.0,853.8h3"/>
<circle class="p" cx="317.8" cy="782.3" r="1.7" fill="#b0dcea"/>
<circle class="p" cx="317.8" cy="785.4" r="1.7" fill="#b0dcea"/>
<circle class="p" cx="317.8" cy="789.5" r="1.7" fill="#b0dcea"/>
<circle class="p" cx="317.8" cy="791.9" r="1.7" fill="#b0dcea"/>
<path class="e" d="M317.5,781.9V791.5M316.0,781.9h3M316.0,791.5h3"/>
<rect x="48.60" y="727.50" width="276.10" height="160.50" fill="none" stroke="#262626" stroke-width="1.0"/>
<text x="46.10" y="892.20" font-size="12.5" text-anchor="end" fill="#1a1a1a" font-family="'DejaVu Sans','Liberation Sans',sans-serif" font-weight="bold">0</text>
<text x="46.10" y="864.90" font-size="12.5" text-anchor="end" fill="#1a1a1a" font-family="'DejaVu Sans','Liberation Sans',sans-serif" font-weight="bold">0.2</text>
<text x="46.10" y="837.60" font-size="12.5" text-anchor="end" fill="#1a1a1a" font-family="'DejaVu Sans','Liberation Sans',sans-serif" font-weight="bold">0.4</text>
<text x="46.10" y="810.30" font-size="12.5" text-anchor="end" fill="#1a1a1a" font-family="'DejaVu Sans','Liberation Sans',sans-serif" font-weight="bold">0.6</text>
<text x="46.10" y="783.00" font-size="12.5" text-anchor="end" fill="#1a1a1a" font-family="'DejaVu Sans','Liberation Sans',sans-serif" font-weight="bold">0.8</text>
<text x="46.10" y="755.70" font-size="12.5" text-anchor="end" fill="#1a1a1a" font-family="'DejaVu Sans','Liberation Sans',sans-serif" font-weight="bold">1</text>
<text x="65.34" y="900.10" font-size="12.8" text-anchor="middle" fill="#1a1a1a" font-family="'DejaVu Sans','Liberation Sans',sans-serif" font-weight="bold">G</text>
<text x="99.93" y="900.10" font-size="12.8" text-anchor="middle" fill="#1a1a1a" font-family="'DejaVu Sans','Liberation Sans',sans-serif" font-weight="bold">F</text>
<text x="134.52" y="900.10" font-size="12.8" text-anchor="middle" fill="#1a1a1a" font-family="'DejaVu Sans','Liberation Sans',sans-serif" font-weight="bold">K</text>
<text x="169.11" y="900.10" font-size="12.8" text-anchor="middle" fill="#1a1a1a" font-family="'DejaVu Sans','Liberation Sans',sans-serif" font-weight="bold">T</text>
<text x="203.69" y="900.10" font-size="12.8" text-anchor="middle" fill="#1a1a1a" font-family="'DejaVu Sans','Liberation Sans',sans-serif" font-weight="bold">D</text>
<text x="238.28" y="900.10" font-size="12.8" text-anchor="middle" fill="#1a1a1a" font-family="'DejaVu Sans','Liberation Sans',sans-serif" font-weight="bold">P</text>
<text x="272.87" y="900.10" font-size="12.8" text-anchor="middle" fill="#1a1a1a" font-family="'DejaVu Sans','Liberation Sans',sans-serif" font-weight="bold">M</text>
<text x="307.06" y="900.10" font-size="12.8" text-anchor="middle" fill="#1a1a1a" font-family="'DejaVu Sans','Liberation Sans',sans-serif" font-weight="bold">M<tspan font-size="8.70" dy="3.20">5CV</tspan></text>
<text x="19.00" y="808.00" font-size="14.3" text-anchor="middle" fill="#1a1a1a" font-family="'DejaVu Sans','Liberation Sans',sans-serif" font-weight="bold" transform="rotate(-90 19.00 808.00)">Value</text>
<text x="186.65" y="718.00" font-size="14.9" text-anchor="middle" fill="#1a1a1a" font-family="'DejaVu Sans','Liberation Sans',sans-serif" font-weight="bold">Kinase cold-start</text>
<rect x="115.90" y="734.20" width="11.90" height="5.90" fill="#6678ad" stroke="none" stroke-width="1"/>
<text x="135.00" y="740.38" font-size="8.85" text-anchor="start" fill="#1a1a1a" font-family="'DejaVu Sans','Liberation Sans',sans-serif" font-weight="bold">MAE</text>
<rect x="161.70" y="734.20" width="11.90" height="5.90" fill="#4a80ad" stroke="none" stroke-width="1"/>
<text x="180.50" y="740.38" font-size="8.85" text-anchor="start" fill="#1a1a1a" font-family="'DejaVu Sans','Liberation Sans',sans-serif" font-weight="bold">CI</text>
<rect x="197.90" y="734.20" width="11.90" height="5.90" fill="#55998f" stroke="none" stroke-width="1"/>
<text x="216.90" y="740.38" font-size="8.85" text-anchor="start" fill="#1a1a1a" font-family="'DejaVu Sans','Liberation Sans',sans-serif" font-weight="bold">MSE</text>
<rect x="242.20" y="734.20" width="11.90" height="5.90" fill="#9cc1ce" stroke="none" stroke-width="1"/>
<text x="261.20" y="740.38" font-size="8.85" text-anchor="start" fill="#1a1a1a" font-family="'DejaVu Sans','Liberation Sans',sans-serif" font-weight="bold">PCC</text>
<rect x="405.50" y="310.30" width="276.10" height="159.90" fill="#fff" stroke="none" stroke-width="1"/>
<rect x="409.08" y="404.30" width="6.07" height="65.90" fill="#86b3c3" stroke="#86b3c3" stroke-width="0.3" stroke-opacity=".35"/>
<rect x="415.99" y="422.90" width="6.07" height="47.30" fill="#6d86a9" stroke="#6d86a9" stroke-width="0.3" stroke-opacity=".35"/>
<rect x="422.90" y="357.90" width="6.07" height="112.30" fill="#a590cf" stroke="#a590cf" stroke-width="0.3" stroke-opacity=".35"/>
<rect x="429.82" y="456.20" width="6.07" height="14.00" fill="#ddb8ad" stroke="#ddb8ad" stroke-width="0.3" stroke-opacity=".35"/>
<rect x="443.65" y="403.90" width="6.07" height="66.30" fill="#86b3c3" stroke="#86b3c3" stroke-width="0.3" stroke-opacity=".35"/>
<rect x="450.56" y="421.10" width="6.07" height="49.10" fill="#6d86a9" stroke="#6d86a9" stroke-width="0.3" stroke-opacity=".35"/>
<rect x="457.47" y="395.30" width="6.07" height="74.90" fill="#a590cf" stroke="#a590cf" stroke-width="0.3" stroke-opacity=".35"/>
<rect x="464.39" y="451.50" width="6.07" height="18.70" fill="#ddb8ad" stroke="#ddb8ad" stroke-width="0.3" stroke-opacity=".35"/>
<rect x="478.21" y="419.40" width="6.07" height="50.80" fill="#86b3c3" stroke="#86b3c3" stroke-width="0.3" stroke-opacity=".35"/>
<rect x="485.13" y="424.10" width="6.07" height="46.10" fill="#6d86a9" stroke="#6d86a9" stroke-width="0.3" stroke-opacity=".35"/>
<rect x="492.04" y="407.20" width="6.07" height="63.00" fill="#a590cf" stroke="#a590cf" stroke-width="0.3" stroke-opacity=".35"/>
<rect x="498.96" y="461.30" width="6.07" height="8.90" fill="#ddb8ad" stroke="#ddb8ad" stroke-width="0.3" stroke-opacity=".35"/>
<rect x="512.78" y="363.00" width="6.07" height="107.20" fill="#86b3c3" stroke="#86b3c3" stroke-width="0.3" stroke-opacity=".35"/>
<rect x="519.70" y="418.00" width="6.07" height="52.20" fill="#6d86a9" stroke="#6d86a9" stroke-width="0.3" stroke-opacity=".35"/>
<rect x="526.61" y="321.30" width="6.07" height="148.90" fill="#a590cf" stroke="#a590cf" stroke-width="0.3" stroke-opacity=".35"/>
<rect x="533.52" y="458.70" width="6.07" height="11.50" fill="#ddb8ad" stroke="#ddb8ad" stroke-width="0.3" stroke-opacity=".35"/>
<rect x="547.35" y="417.80" width="6.07" height="52.40" fill="#86b3c3" stroke="#86b3c3" stroke-width="0.3" stroke-opacity=".35"/>
<rect x="554.27" y="423.10" width="6.07" height="47.10" fill="#6d86a9" stroke="#6d86a9" stroke-width="0.3" stroke-opacity=".35"/>
<rect x="561.18" y="406.80" width="6.07" height="63.40" fill="#a590cf" stroke="#a590cf" stroke-width="0.3" stroke-opacity=".35"/>
<rect x="568.09" y="456.20" width="6.07" height="14.00" fill="#ddb8ad" stroke="#ddb8ad" stroke-width="0.3" stroke-opacity=".35"/>
<rect x="581.92" y="420.90" width="6.07" height="49.30" fill="#86b3c3" stroke="#86b3c3" stroke-width="0.3" stroke-opacity=".35"/>
<rect x="588.83" y="419.00" width="6.07" height="51.20" fill="#6d86a9" stroke="#6d86a9" stroke-width="0.3" stroke-opacity=".35"/>
<rect x="595.75" y="407.00" width="6.07" height="63.20" fill="#a590cf" stroke="#a590cf" stroke-width="0.3" stroke-opacity=".35"/>
<rect x="602.66" y="445.20" width="6.07" height="25.00" fill="#ddb8ad" stroke="#ddb8ad" stroke-width="0.3" stroke-opacity=".35"/>
<rect x="616.49" y="431.10" width="6.07" height="39.10" fill="#86b3c3" stroke="#86b3c3" stroke-width="0.3" stroke-opacity=".35"/>
<rect x="623.40" y="418.20" width="6.07" height="52.00" fill="#6d86a9" stroke="#6d86a9" stroke-width="0.3" stroke-opacity=".35"/>
<rect x="630.32" y="433.10" width="6.07" height="37.10" fill="#a590cf" stroke="#a590cf" stroke-width="0.3" stroke-opacity=".35"/>
<rect x="637.23" y="445.40" width="6.07" height="24.80" fill="#ddb8ad" stroke="#ddb8ad" stroke-width="0.3" stroke-opacity=".35"/>
<rect x="651.06" y="427.00" width="6.07" height="43.20" fill="#86b3c3" stroke="#86b3c3" stroke-width="0.3" stroke-opacity=".35"/>
<rect x="657.97" y="420.10" width="6.07" height="50.10" fill="#6d86a9" stroke="#6d86a9" stroke-width="0.3" stroke-opacity=".35"/>
<rect x="664.89" y="422.90" width="6.07" height="47.30" fill="#a590cf" stroke="#a590cf" stroke-width="0.3" stroke-opacity=".35"/>
<rect x="671.80" y="452.80" width="6.07" height="17.40" fill="#ddb8ad" stroke="#ddb8ad" stroke-width="0.3" stroke-opacity=".35"/>
<circle class="p" cx="412.1" cy="396.6" r="1.7" fill="#93cde0"/>
<circle class="p" cx="412.1" cy="405.6" r="1.7" fill="#93cde0"/>
<circle class="p" cx="412.1" cy="410.3" r="1.7" fill="#93cde0"/>
<path class="e" d="M412.5,397.0V411.3M411.0,397.0h3M411.0,411.3h3"/>
<circle class="p" cx="419.0" cy="421.5" r="1.7" fill="#7594c4"/>
<circle class="p" cx="419.0" cy="422.9" r="1.7" fill="#7594c4"/>
<path class="e" d="M419.5,421.1V424.1M418.0,421.1h3M418.0,424.1h3"/>
<circle class="p" cx="425.9" cy="339.3" r="1.7" fill="#b097e6"/>
<circle class="p" cx="425.9" cy="359.2" r="1.7" fill="#b097e6"/>
<circle class="p" cx="425.9" cy="374.5" r="1.7" fill="#b097e6"/>
<path class="e" d="M425.5,339.7V375.5M424.0,339.7h3M424.0,375.5h3"/>
<circle class="p" cx="432.9" cy="453.8" r="1.7" fill="#f2c6b8"/>
<circle class="p" cx="432.9" cy="456.6" r="1.7" fill="#f2c6b8"/>
<circle class="p" cx="432.9" cy="458.3" r="1.7" fill="#f2c6b8"/>
<path class="e" d="M432.5,453.8V458.7M431.0,453.8h3M431.0,458.7h3"/>
<circle class="p" cx="446.7" cy="403.1" r="1.7" fill="#93cde0"/>
<path class="e" d="M446.5,402.9V404.7M445.0,402.9h3M445.0,404.7h3"/>
<circle class="p" cx="453.6" cy="420.5" r="1.7" fill="#7594c4"/>
<path class="e" d="M453.5,420.1V421.9M452.0,420.1h3M452.0,421.9h3"/>
<circle class="p" cx="460.5" cy="394.9" r="1.7" fill="#b097e6"/>
<path class="e" d="M460.5,394.3V396.1M459.0,394.3h3M459.0,396.1h3"/>
<circle class="p" cx="467.4" cy="451.1" r="1.7" fill="#f2c6b8"/>
<path class="e" d="M467.5,450.7V452.3M466.0,450.7h3M466.0,452.3h3"/>
<circle class="p" cx="481.3" cy="418.8" r="1.7" fill="#93cde0"/>
<path class="e" d="M481.5,418.4V420.2M480.0,418.4h3M480.0,420.2h3"/>
<circle class="p" cx="488.2" cy="423.5" r="1.7" fill="#7594c4"/>
<path class="e" d="M488.5,423.1V424.9M487.0,423.1h3M487.0,424.9h3"/>
<circle class="p" cx="495.1" cy="406.6" r="1.7" fill="#b097e6"/>
<path class="e" d="M495.5,406.2V408.0M494.0,406.2h3M494.0,408.0h3"/>
<circle class="p" cx="502.0" cy="460.9" r="1.7" fill="#f2c6b8"/>
<path class="e" d="M501.5,460.5V462.1M500.0,460.5h3M500.0,462.1h3"/>
<circle class="p" cx="515.8" cy="361.2" r="1.7" fill="#93cde0"/>
<path class="e" d="M515.5,360.2V364.3M514.0,360.2h3M514.0,364.3h3"/>
<circle class="p" cx="522.7" cy="417.4" r="1.7" fill="#7594c4"/>
<path class="e" d="M522.5,417.0V418.8M521.0,417.0h3M521.0,418.8h3"/>
<circle class="p" cx="529.6" cy="317.7" r="1.7" fill="#b097e6"/>
<circle class="p" cx="529.6" cy="321.8" r="1.7" fill="#b097e6"/>
<path class="e" d="M529.5,317.7V323.8M528.0,317.7h3M528.0,323.8h3"/>
<circle class="p" cx="536.6" cy="457.9" r="1.7" fill="#f2c6b8"/>
<path class="e" d="M536.5,457.5V459.5M535.0,457.5h3M535.0,459.5h3"/>
<circle class="p" cx="550.4" cy="413.3" r="1.7" fill="#93cde0"/>
<circle class="p" cx="550.4" cy="417.0" r="1.7" fill="#93cde0"/>
<circle class="p" cx="550.4" cy="421.9" r="1.7" fill="#93cde0"/>
<path class="e" d="M550.5,412.9V422.9M549.0,412.9h3M549.0,422.9h3"/>
<circle class="p" cx="557.3" cy="421.9" r="1.7" fill="#7594c4"/>
<circle class="p" cx="557.3" cy="423.1" r="1.7" fill="#7594c4"/>
<path class="e" d="M557.5,421.5V424.6M556.0,421.5h3M556.0,424.6h3"/>
<circle class="p" cx="564.2" cy="395.9" r="1.7" fill="#b097e6"/>
<circle class="p" cx="564.2" cy="411.3" r="1.7" fill="#b097e6"/>
<circle class="p" cx="564.2" cy="413.3" r="1.7" fill="#b097e6"/>
<path class="e" d="M564.5,396.6V415.4M563.0,396.6h3M563.0,415.4h3"/>
<circle class="p" cx="571.1" cy="451.7" r="1.7" fill="#f2c6b8"/>
<circle class="p" cx="571.1" cy="456.6" r="1.7" fill="#f2c6b8"/>
<circle class="p" cx="571.1" cy="458.3" r="1.7" fill="#f2c6b8"/>
<path class="e" d="M571.5,451.7V459.9M570.0,451.7h3M570.0,459.9h3"/>
<circle class="p" cx="585.0" cy="418.8" r="1.7" fill="#93cde0"/>
<circle class="p" cx="585.0" cy="421.1" r="1.7" fill="#93cde0"/>
<path class="e" d="M584.5,418.0V422.9M583.0,418.0h3M583.0,422.9h3"/>
<circle class="p" cx="591.9" cy="417.0" r="1.7" fill="#7594c4"/>
<circle class="p" cx="591.9" cy="419.0" r="1.7" fill="#7594c4"/>
<path class="e" d="M591.5,416.4V420.5M590.0,416.4h3M590.0,420.5h3"/>
<circle class="p" cx="598.8" cy="404.1" r="1.7" fill="#b097e6"/>
<circle class="p" cx="598.8" cy="408.2" r="1.7" fill="#b097e6"/>
<path class="e" d="M598.5,403.5V410.3M597.0,403.5h3M597.0,410.3h3"/>
<circle class="p" cx="605.7" cy="443.6" r="1.7" fill="#f2c6b8"/>
<circle class="p" cx="605.7" cy="445.6" r="1.7" fill="#f2c6b8"/>
<path class="e" d="M605.5,443.0V446.6M604.0,443.0h3M604.0,446.6h3"/>
<circle class="p" cx="619.5" cy="428.2" r="1.7" fill="#93cde0"/>
<circle class="p" cx="619.5" cy="432.1" r="1.7" fill="#93cde0"/>
<path class="e" d="M619.5,427.6V433.8M618.0,427.6h3M618.0,433.8h3"/>
<circle class="p" cx="626.4" cy="417.0" r="1.7" fill="#7594c4"/>
<circle class="p" cx="626.4" cy="418.4" r="1.7" fill="#7594c4"/>
<path class="e" d="M626.5,416.4V419.0M625.0,416.4h3M625.0,419.0h3"/>
<circle class="p" cx="633.4" cy="428.2" r="1.7" fill="#b097e6"/>
<circle class="p" cx="633.4" cy="433.8" r="1.7" fill="#b097e6"/>
<path class="e" d="M633.5,428.2V435.8M632.0,428.2h3M632.0,435.8h3"/>
<circle class="p" cx="640.3" cy="443.6" r="1.7" fill="#f2c6b8"/>
<circle class="p" cx="640.3" cy="446.0" r="1.7" fill="#f2c6b8"/>
<path class="e" d="M640.5,443.0V447.0M639.0,443.0h3M639.0,447.0h3"/>
<circle class="p" cx="654.1" cy="419.0" r="1.7" fill="#93cde0"/>
<circle class="p" cx="654.1" cy="423.1" r="1.7" fill="#93cde0"/>
<circle class="p" cx="654.1" cy="427.6" r="1.7" fill="#93cde0"/>
<circle class="p" cx="654.1" cy="436.8" r="1.7" fill="#93cde0"/>
<path class="e" d="M654.5,419.4V432.7M653.0,419.4h3M653.0,432.7h3"/>
<circle class="p" cx="661.0" cy="415.4" r="1.7" fill="#7594c4"/>
<circle class="p" cx="661.0" cy="419.4" r="1.7" fill="#7594c4"/>
<circle class="p" cx="661.0" cy="421.5" r="1.7" fill="#7594c4"/>
<path class="e" d="M661.5,416.4V423.5M660.0,416.4h3M660.0,423.5h3"/>
<circle class="p" cx="667.9" cy="401.1" r="1.7" fill="#b097e6"/>
<circle class="p" cx="667.9" cy="418.4" r="1.7" fill="#b097e6"/>
<circle class="p" cx="667.9" cy="428.6" r="1.7" fill="#b097e6"/>
<circle class="p" cx="667.9" cy="443.0" r="1.7" fill="#b097e6"/>
<path class="e" d="M667.5,407.2V438.3M666.0,407.2h3M666.0,438.3h3"/>
<circle class="p" cx="674.8" cy="440.9" r="1.7" fill="#f2c6b8"/>
<circle class="p" cx="674.8" cy="449.1" r="1.7" fill="#f2c6b8"/>
<circle class="p" cx="674.8" cy="456.2" r="1.7" fill="#f2c6b8"/>
<circle class="p" cx="674.8" cy="463.4" r="1.7" fill="#f2c6b8"/>
<path class="e" d="M674.5,444.0V461.3M673.0,444.0h3M673.0,461.3h3"/>
<rect x="405.50" y="310.30" width="276.10" height="159.90" fill="none" stroke="#262626" stroke-width="1.0"/>
<text x="403.00" y="474.70" font-size="12.5" text-anchor="end" fill="#1a1a1a" font-family="'DejaVu Sans','Liberation Sans',sans-serif" font-weight="bold">0</text>
<text x="403.00" y="431.00" font-size="12.5" text-anchor="end" fill="#1a1a1a" font-family="'DejaVu Sans','Liberation Sans',sans-serif" font-weight="bold">0.5</text>
<text x="403.00" y="387.30" font-size="12.5" text-anchor="end" fill="#1a1a1a" font-family="'DejaVu Sans','Liberation Sans',sans-serif" font-weight="bold">1</text>
<text x="403.00" y="343.60" font-size="12.5" text-anchor="end" fill="#1a1a1a" font-family="'DejaVu Sans','Liberation Sans',sans-serif" font-weight="bold">1.5</text>
<text x="422.48" y="482.80" font-size="12.8" text-anchor="middle" fill="#1a1a1a" font-family="'DejaVu Sans','Liberation Sans',sans-serif" font-weight="bold">G</text>
<text x="457.05" y="482.80" font-size="12.8" text-anchor="middle" fill="#1a1a1a" font-family="'DejaVu Sans','Liberation Sans',sans-serif" font-weight="bold">F</text>
<text x="491.62" y="482.80" font-size="12.8" text-anchor="middle" fill="#1a1a1a" font-family="'DejaVu Sans','Liberation Sans',sans-serif" font-weight="bold">K</text>
<text x="526.19" y="482.80" font-size="12.8" text-anchor="middle" fill="#1a1a1a" font-family="'DejaVu Sans','Liberation Sans',sans-serif" font-weight="bold">T</text>
<text x="560.76" y="482.80" font-size="12.8" text-anchor="middle" fill="#1a1a1a" font-family="'DejaVu Sans','Liberation Sans',sans-serif" font-weight="bold">D</text>
<text x="595.33" y="482.80" font-size="12.8" text-anchor="middle" fill="#1a1a1a" font-family="'DejaVu Sans','Liberation Sans',sans-serif" font-weight="bold">P</text>
<text x="629.90" y="482.80" font-size="12.8" text-anchor="middle" fill="#1a1a1a" font-family="'DejaVu Sans','Liberation Sans',sans-serif" font-weight="bold">M</text>
<text x="664.07" y="482.80" font-size="12.8" text-anchor="middle" fill="#1a1a1a" font-family="'DejaVu Sans','Liberation Sans',sans-serif" font-weight="bold">M<tspan font-size="8.70" dy="3.20">5CV</tspan></text>
<text x="375.80" y="390.00" font-size="14.3" text-anchor="middle" fill="#1a1a1a" font-family="'DejaVu Sans','Liberation Sans',sans-serif" font-weight="bold" transform="rotate(-90 375.80 390.00)">Value</text>
<text x="543.55" y="300.80" font-size="14.9" text-anchor="middle" fill="#1a1a1a" font-family="'DejaVu Sans','Liberation Sans',sans-serif" font-weight="bold">Kinase-drug cold-start</text>
<rect x="629.60" y="319.40" width="13.30" height="5.80" fill="#86b3c3" stroke="none" stroke-width="1"/>
<text x="650.00" y="325.62" font-size="9.1" text-anchor="start" fill="#1a1a1a" font-family="'DejaVu Sans','Liberation Sans',sans-serif" font-weight="bold">MAE</text>
<rect x="629.60" y="332.60" width="13.30" height="5.80" fill="#6d86a9" stroke="none" stroke-width="1"/>
<text x="650.00" y="338.82" font-size="9.1" text-anchor="start" fill="#1a1a1a" font-family="'DejaVu Sans','Liberation Sans',sans-serif" font-weight="bold">CI</text>
<rect x="629.60" y="345.80" width="13.30" height="5.80" fill="#a590cf" stroke="none" stroke-width="1"/>
<text x="650.00" y="352.02" font-size="9.1" text-anchor="start" fill="#1a1a1a" font-family="'DejaVu Sans','Liberation Sans',sans-serif" font-weight="bold">MSE</text>
<rect x="629.60" y="359.00" width="13.30" height="5.80" fill="#ddb8ad" stroke="none" stroke-width="1"/>
<text x="650.00" y="365.22" font-size="9.1" text-anchor="start" fill="#1a1a1a" font-family="'DejaVu Sans','Liberation Sans',sans-serif" font-weight="bold">PCC</text>
<text x="346.00" y="302.30" font-size="21" text-anchor="start" fill="#000" font-family="'Liberation Sans','DejaVu Sans',sans-serif" font-weight="bold">(d)</text>
<rect x="405.50" y="518.30" width="276.10" height="159.90" fill="#fff" stroke="none" stroke-width="1"/>
<rect x="409.08" y="601.90" width="6.07" height="76.30" fill="#86b3c3" stroke="#86b3c3" stroke-width="0.3" stroke-opacity=".35"/>
<rect x="415.99" y="612.50" width="6.07" height="65.70" fill="#6d86a9" stroke="#6d86a9" stroke-width="0.3" stroke-opacity=".35"/>
<rect x="422.90" y="581.10" width="6.07" height="97.10" fill="#a590cf" stroke="#a590cf" stroke-width="0.3" stroke-opacity=".35"/>
<rect x="429.82" y="650.30" width="6.07" height="27.90" fill="#ddb8ad" stroke="#ddb8ad" stroke-width="0.3" stroke-opacity=".35"/>
<rect x="443.65" y="603.90" width="6.07" height="74.30" fill="#86b3c3" stroke="#86b3c3" stroke-width="0.3" stroke-opacity=".35"/>
<rect x="450.56" y="597.20" width="6.07" height="81.00" fill="#6d86a9" stroke="#6d86a9" stroke-width="0.3" stroke-opacity=".35"/>
<rect x="457.47" y="599.90" width="6.07" height="78.30" fill="#a590cf" stroke="#a590cf" stroke-width="0.3" stroke-opacity=".35"/>
<rect x="464.39" y="633.20" width="6.07" height="45.00" fill="#ddb8ad" stroke="#ddb8ad" stroke-width="0.3" stroke-opacity=".35"/>
<rect x="478.21" y="614.20" width="6.07" height="64.00" fill="#86b3c3" stroke="#86b3c3" stroke-width="0.3" stroke-opacity=".35"/>
<rect x="485.13" y="606.00" width="6.07" height="72.20" fill="#6d86a9" stroke="#6d86a9" stroke-width="0.3" stroke-opacity=".35"/>
<rect x="492.04" y="601.10" width="6.07" height="77.10" fill="#a590cf" stroke="#a590cf" stroke-width="0.3" stroke-opacity=".35"/>
<rect x="498.96" y="655.40" width="6.07" height="22.80" fill="#ddb8ad" stroke="#ddb8ad" stroke-width="0.3" stroke-opacity=".35"/>
<rect x="512.78" y="570.20" width="6.07" height="108.00" fill="#86b3c3" stroke="#86b3c3" stroke-width="0.3" stroke-opacity=".35"/>
<rect x="519.70" y="601.90" width="6.07" height="76.30" fill="#6d86a9" stroke="#6d86a9" stroke-width="0.3" stroke-opacity=".35"/>
<rect x="526.61" y="555.90" width="6.07" height="122.30" fill="#a590cf" stroke="#a590cf" stroke-width="0.3" stroke-opacity=".35"/>
<rect x="533.52" y="648.90" width="6.07" height="29.30" fill="#ddb8ad" stroke="#ddb8ad" stroke-width="0.3" stroke-opacity=".35"/>
<rect x="547.35" y="612.70" width="6.07" height="65.50" fill="#86b3c3" stroke="#86b3c3" stroke-width="0.3" stroke-opacity=".35"/>
<rect x="554.27" y="600.90" width="6.07" height="77.30" fill="#6d86a9" stroke="#6d86a9" stroke-width="0.3" stroke-opacity=".35"/>
<rect x="561.18" y="594.10" width="6.07" height="84.10" fill="#a590cf" stroke="#a590cf" stroke-width="0.3" stroke-opacity=".35"/>
<rect x="568.09" y="643.80" width="6.07" height="34.40" fill="#ddb8ad" stroke="#ddb8ad" stroke-width="0.3" stroke-opacity=".35"/>
<rect x="581.92" y="615.20" width="6.07" height="63.00" fill="#86b3c3" stroke="#86b3c3" stroke-width="0.3" stroke-opacity=".35"/>
<rect x="588.83" y="598.80" width="6.07" height="79.40" fill="#6d86a9" stroke="#6d86a9" stroke-width="0.3" stroke-opacity=".35"/>
<rect x="595.75" y="601.30" width="6.07" height="76.90" fill="#a590cf" stroke="#a590cf" stroke-width="0.3" stroke-opacity=".35"/>
<rect x="602.66" y="633.20" width="6.07" height="45.00" fill="#ddb8ad" stroke="#ddb8ad" stroke-width="0.3" stroke-opacity=".35"/>
<rect x="616.49" y="617.20" width="6.07" height="61.00" fill="#86b3c3" stroke="#86b3c3" stroke-width="0.3" stroke-opacity=".35"/>
<rect x="623.40" y="598.80" width="6.07" height="79.40" fill="#6d86a9" stroke="#6d86a9" stroke-width="0.3" stroke-opacity=".35"/>
<rect x="630.32" y="607.60" width="6.07" height="70.60" fill="#a590cf" stroke="#a590cf" stroke-width="0.3" stroke-opacity=".35"/>
<rect x="637.23" y="636.00" width="6.07" height="42.20" fill="#ddb8ad" stroke="#ddb8ad" stroke-width="0.3" stroke-opacity=".35"/>
<rect x="651.06" y="619.90" width="6.07" height="58.30" fill="#86b3c3" stroke="#86b3c3" stroke-width="0.3" stroke-opacity=".35"/>
<rect x="657.97" y="600.90" width="6.07" height="77.30" fill="#6d86a9" stroke="#6d86a9" stroke-width="0.3" stroke-opacity=".35"/>
<rect x="664.89" y="614.20" width="6.07" height="64.00" fill="#a590cf" stroke="#a590cf" stroke-width="0.3" stroke-opacity=".35"/>
<rect x="671.80" y="638.10" width="6.07" height="40.10" fill="#ddb8ad" stroke="#ddb8ad" stroke-width="0.3" stroke-opacity=".35"/>
<circle class="p" cx="412.1" cy="598.4" r="1.7" fill="#93cde0"/>
<circle class="p" cx="412.1" cy="602.9" r="1.7" fill="#93cde0"/>
<circle class="p" cx="412.1" cy="606.0" r="1.7" fill="#93cde0"/>
<path class="e" d="M412.5,597.2V606.6M411.0,597.2h3M411.0,606.6h3"/>
<circle class="p" cx="419.0" cy="611.1" r="1.7" fill="#7594c4"/>
<circle class="p" cx="419.0" cy="612.5" r="1.7" fill="#7594c4"/>
<path class="e" d="M419.5,610.7V613.6M418.0,610.7h3M418.0,613.6h3"/>
<circle class="p" cx="425.9" cy="573.9" r="1.7" fill="#b097e6"/>
<circle class="p" cx="425.9" cy="578.4" r="1.7" fill="#b097e6"/>
<circle class="p" cx="425.9" cy="588.6" r="1.7" fill="#b097e6"/>
<path class="e" d="M425.5,573.3V589.2M424.0,573.3h3M424.0,589.2h3"/>
<circle class="p" cx="432.9" cy="646.9" r="1.7" fill="#f2c6b8"/>
<circle class="p" cx="432.9" cy="651.6" r="1.7" fill="#f2c6b8"/>
<path class="e" d="M432.5,646.5V653.4M431.0,646.5h3M431.0,653.4h3"/>
<circle class="p" cx="446.7" cy="595.8" r="1.7" fill="#93cde0"/>
<circle class="p" cx="446.7" cy="618.9" r="1.7" fill="#93cde0"/>
<path class="e" d="M446.5,590.3V617.6M445.0,590.3h3M445.0,617.6h3"/>
<circle class="p" cx="453.6" cy="596.4" r="1.7" fill="#7594c4"/>
<path class="e" d="M453.5,595.8V598.2M452.0,595.8h3M452.0,598.2h3"/>
<circle class="p" cx="460.5" cy="594.8" r="1.7" fill="#b097e6"/>
<circle class="p" cx="460.5" cy="608.0" r="1.7" fill="#b097e6"/>
<path class="e" d="M460.5,591.7V607.4M459.0,591.7h3M459.0,607.4h3"/>
<circle class="p" cx="467.4" cy="632.8" r="1.7" fill="#f2c6b8"/>
<path class="e" d="M467.5,632.2V634.2M466.0,632.2h3M466.0,634.2h3"/>
<circle class="p" cx="481.3" cy="613.6" r="1.7" fill="#93cde0"/>
<path class="e" d="M481.5,613.2V615.0M480.0,613.2h3M480.0,615.0h3"/>
<circle class="p" cx="488.2" cy="605.4" r="1.7" fill="#7594c4"/>
<path class="e" d="M488.5,605.0V606.8M487.0,605.0h3M487.0,606.8h3"/>
<circle class="p" cx="495.1" cy="600.5" r="1.7" fill="#b097e6"/>
<path class="e" d="M495.5,600.1V601.9M494.0,600.1h3M494.0,601.9h3"/>
<circle class="p" cx="502.0" cy="654.6" r="1.7" fill="#f2c6b8"/>
<path class="e" d="M501.5,654.4V656.2M500.0,654.4h3M500.0,656.2h3"/>
<circle class="p" cx="515.8" cy="555.9" r="1.7" fill="#93cde0"/>
<circle class="p" cx="515.8" cy="567.2" r="1.7" fill="#93cde0"/>
<circle class="p" cx="515.8" cy="586.6" r="1.7" fill="#93cde0"/>
<path class="e" d="M515.5,554.5V585.6M514.0,554.5h3M514.0,585.6h3"/>
<circle class="p" cx="522.7" cy="595.8" r="1.7" fill="#7594c4"/>
<circle class="p" cx="522.7" cy="602.9" r="1.7" fill="#7594c4"/>
<circle class="p" cx="522.7" cy="606.0" r="1.7" fill="#7594c4"/>
<path class="e" d="M522.5,595.8V608.0M521.0,595.8h3M521.0,608.0h3"/>
<circle class="p" cx="529.6" cy="533.4" r="1.7" fill="#b097e6"/>
<circle class="p" cx="529.6" cy="543.2" r="1.7" fill="#b097e6"/>
<circle class="p" cx="529.6" cy="589.0" r="1.7" fill="#b097e6"/>
<path class="e" d="M529.5,525.7V584.5M528.0,525.7h3M528.0,584.5h3"/>
<circle class="p" cx="536.6" cy="634.0" r="1.7" fill="#f2c6b8"/>
<circle class="p" cx="536.6" cy="652.0" r="1.7" fill="#f2c6b8"/>
<circle class="p" cx="536.6" cy="659.1" r="1.7" fill="#f2c6b8"/>
<path class="e" d="M536.5,633.6V661.6M535.0,633.6h3M535.0,661.6h3"/>
<circle class="p" cx="550.4" cy="611.1" r="1.7" fill="#93cde0"/>
<circle class="p" cx="550.4" cy="613.1" r="1.7" fill="#93cde0"/>
<path class="e" d="M550.5,610.5V614.2M549.0,610.5h3M549.0,614.2h3"/>
<circle class="p" cx="557.3" cy="599.2" r="1.7" fill="#7594c4"/>
<circle class="p" cx="557.3" cy="601.3" r="1.7" fill="#7594c4"/>
<path class="e" d="M557.5,598.8V602.3M556.0,598.8h3M556.0,602.3h3"/>
<circle class="p" cx="564.2" cy="590.7" r="1.7" fill="#b097e6"/>
<circle class="p" cx="564.2" cy="595.8" r="1.7" fill="#b097e6"/>
<path class="e" d="M564.5,590.3V597.4M563.0,590.3h3M563.0,597.4h3"/>
<circle class="p" cx="571.1" cy="640.7" r="1.7" fill="#f2c6b8"/>
<circle class="p" cx="571.1" cy="644.8" r="1.7" fill="#f2c6b8"/>
<path class="e" d="M571.5,640.3V646.3M570.0,640.3h3M570.0,646.3h3"/>
<circle class="p" cx="585.0" cy="612.7" r="1.7" fill="#93cde0"/>
<circle class="p" cx="585.0" cy="617.2" r="1.7" fill="#93cde0"/>
<path class="e" d="M584.5,611.5V619.3M583.0,611.5h3M583.0,619.3h3"/>
<circle class="p" cx="591.9" cy="597.2" r="1.7" fill="#7594c4"/>
<circle class="p" cx="591.9" cy="598.8" r="1.7" fill="#7594c4"/>
<path class="e" d="M591.5,596.8V600.3M590.0,596.8h3M590.0,600.3h3"/>
<circle class="p" cx="598.8" cy="597.8" r="1.7" fill="#b097e6"/>
<circle class="p" cx="598.8" cy="603.9" r="1.7" fill="#b097e6"/>
<path class="e" d="M598.5,596.8V605.4M597.0,596.8h3M597.0,605.4h3"/>
<circle class="p" cx="605.7" cy="630.5" r="1.7" fill="#f2c6b8"/>
<circle class="p" cx="605.7" cy="635.6" r="1.7" fill="#f2c6b8"/>
<path class="e" d="M605.5,629.5V636.6M604.0,629.5h3M604.0,636.6h3"/>
<circle class="p" cx="619.5" cy="615.8" r="1.7" fill="#93cde0"/>
<circle class="p" cx="619.5" cy="617.2" r="1.7" fill="#93cde0"/>
<path class="e" d="M619.5,615.2V618.7M618.0,615.2h3M618.0,618.7h3"/>
<circle class="p" cx="626.4" cy="596.8" r="1.7" fill="#7594c4"/>
<circle class="p" cx="626.4" cy="599.2" r="1.7" fill="#7594c4"/>
<path class="e" d="M626.5,596.2V600.9M625.0,596.2h3M625.0,600.9h3"/>
<circle class="p" cx="633.4" cy="606.6" r="1.7" fill="#b097e6"/>
<path class="e" d="M633.5,606.0V608.6M632.0,606.0h3M632.0,608.6h3"/>
<circle class="p" cx="640.3" cy="634.0" r="1.7" fill="#f2c6b8"/>
<circle class="p" cx="640.3" cy="637.3" r="1.7" fill="#f2c6b8"/>
<path class="e" d="M640.5,633.6V638.1M639.0,633.6h3M639.0,638.1h3"/>
<circle class="p" cx="654.1" cy="605.6" r="1.7" fill="#93cde0"/>
<circle class="p" cx="654.1" cy="615.2" r="1.7" fill="#93cde0"/>
<circle class="p" cx="654.1" cy="623.4" r="1.7" fill="#93cde0"/>
<circle class="p" cx="654.1" cy="634.2" r="1.7" fill="#93cde0"/>
<path class="e" d="M654.5,609.1V630.5M653.0,609.1h3M653.0,630.5h3"/>
<circle class="p" cx="661.0" cy="594.3" r="1.7" fill="#7594c4"/>
<circle class="p" cx="661.0" cy="599.9" r="1.7" fill="#7594c4"/>
<circle class="p" cx="661.0" cy="602.9" r="1.7" fill="#7594c4"/>
<circle class="p" cx="661.0" cy="608.6" r="1.7" fill="#7594c4"/>
<path class="e" d="M661.5,595.8V606.0M660.0,595.8h3M660.0,606.0h3"/>
<circle class="p" cx="667.9" cy="593.3" r="1.7" fill="#b097e6"/>
<circle class="p" cx="667.9" cy="605.6" r="1.7" fill="#b097e6"/>
<circle class="p" cx="667.9" cy="615.2" r="1.7" fill="#b097e6"/>
<circle class="p" cx="667.9" cy="640.7" r="1.7" fill="#b097e6"/>
<path class="e" d="M667.5,596.4V631.5M666.0,596.4h3M666.0,631.5h3"/>
<circle class="p" cx="674.8" cy="631.5" r="1.7" fill="#f2c6b8"/>
<circle class="p" cx="674.8" cy="633.6" r="1.7" fill="#f2c6b8"/>
<circle class="p" cx="674.8" cy="639.7" r="1.7" fill="#f2c6b8"/>
<circle class="p" cx="674.8" cy="654.0" r="1.7" fill="#f2c6b8"/>
<path class="e" d="M674.5,628.5V647.9M673.0,628.5h3M673.0,647.9h3"/>
<rect x="405.50" y="518.30" width="276.10" height="159.90" fill="none" stroke="#262626" stroke-width="1.0"/>
<text x="403.50" y="676.10" font-size="11.8" text-anchor="end" fill="#1a1a1a" font-family="'DejaVu Sans','Liberation Sans',sans-serif" font-weight="bold">0</text>
<text x="403.50" y="654.20" font-size="11.8" text-anchor="end" fill="#1a1a1a" font-family="'DejaVu Sans','Liberation Sans',sans-serif" font-weight="bold">0.2</text>
<text x="403.50" y="632.50" font-size="11.8" text-anchor="end" fill="#1a1a1a" font-family="'DejaVu Sans','Liberation Sans',sans-serif" font-weight="bold">0.4</text>
<text x="403.50" y="609.20" font-size="11.8" text-anchor="end" fill="#1a1a1a" font-family="'DejaVu Sans','Liberation Sans',sans-serif" font-weight="bold">0.6</text>
<text x="403.50" y="584.60" font-size="11.8" text-anchor="end" fill="#1a1a1a" font-family="'DejaVu Sans','Liberation Sans',sans-serif" font-weight="bold">0.8</text>
<text x="403.50" y="562.20" font-size="11.8" text-anchor="end" fill="#1a1a1a" font-family="'DejaVu Sans','Liberation Sans',sans-serif" font-weight="bold">1</text>
<text x="403.50" y="537.70" font-size="11.8" text-anchor="end" fill="#1a1a1a" font-family="'DejaVu Sans','Liberation Sans',sans-serif" font-weight="bold">1.2</text>
<text x="422.48" y="691.30" font-size="12.8" text-anchor="middle" fill="#1a1a1a" font-family="'DejaVu Sans','Liberation Sans',sans-serif" font-weight="bold">G</text>
<text x="457.05" y="691.30" font-size="12.8" text-anchor="middle" fill="#1a1a1a" font-family="'DejaVu Sans','Liberation Sans',sans-serif" font-weight="bold">F</text>
<text x="491.62" y="691.30" font-size="12.8" text-anchor="middle" fill="#1a1a1a" font-family="'DejaVu Sans','Liberation Sans',sans-serif" font-weight="bold">K</text>
<text x="526.19" y="691.30" font-size="12.8" text-anchor="middle" fill="#1a1a1a" font-family="'DejaVu Sans','Liberation Sans',sans-serif" font-weight="bold">T</text>
<text x="560.76" y="691.30" font-size="12.8" text-anchor="middle" fill="#1a1a1a" font-family="'DejaVu Sans','Liberation Sans',sans-serif" font-weight="bold">D</text>
<text x="595.33" y="691.30" font-size="12.8" text-anchor="middle" fill="#1a1a1a" font-family="'DejaVu Sans','Liberation Sans',sans-serif" font-weight="bold">P</text>
<text x="629.90" y="691.30" font-size="12.8" text-anchor="middle" fill="#1a1a1a" font-family="'DejaVu Sans','Liberation Sans',sans-serif" font-weight="bold">M</text>
<text x="664.07" y="691.30" font-size="12.8" text-anchor="middle" fill="#1a1a1a" font-family="'DejaVu Sans','Liberation Sans',sans-serif" font-weight="bold">M<tspan font-size="8.70" dy="3.20">5CV</tspan></text>
<text x="375.80" y="598.00" font-size="14.3" text-anchor="middle" fill="#1a1a1a" font-family="'DejaVu Sans','Liberation Sans',sans-serif" font-weight="bold" transform="rotate(-90 375.80 598.00)">Value</text>
<text x="543.55" y="509.60" font-size="14.9" text-anchor="middle" fill="#1a1a1a" font-family="'DejaVu Sans','Liberation Sans',sans-serif" font-weight="bold">Drug cold-start</text>
<rect x="631.00" y="526.40" width="13.30" height="5.80" fill="#86b3c3" stroke="none" stroke-width="1"/>
<text x="651.50" y="532.62" font-size="9.1" text-anchor="start" fill="#1a1a1a" font-family="'DejaVu Sans','Liberation Sans',sans-serif" font-weight="bold">MAE</text>
<rect x="631.00" y="539.60" width="13.30" height="5.80" fill="#6d86a9" stroke="none" stroke-width="1"/>
<text x="651.50" y="545.82" font-size="9.1" text-anchor="start" fill="#1a1a1a" font-family="'DejaVu Sans','Liberation Sans',sans-serif" font-weight="bold">CI</text>
<rect x="631.00" y="552.80" width="13.30" height="5.80" fill="#a590cf" stroke="none" stroke-width="1"/>
<text x="651.50" y="559.02" font-size="9.1" text-anchor="start" fill="#1a1a1a" font-family="'DejaVu Sans','Liberation Sans',sans-serif" font-weight="bold">MSE</text>
<rect x="631.00" y="566.00" width="13.30" height="5.80" fill="#ddb8ad" stroke="none" stroke-width="1"/>
<text x="651.50" y="572.22" font-size="9.1" text-anchor="start" fill="#1a1a1a" font-family="'DejaVu Sans','Liberation Sans',sans-serif" font-weight="bold">PCC</text>
<rect x="405.50" y="726.30" width="276.10" height="159.80" fill="#fff" stroke="none" stroke-width="1"/>
<rect x="409.08" y="851.00" width="6.07" height="35.10" fill="#86b3c3" stroke="#86b3c3" stroke-width="0.3" stroke-opacity=".35"/>
<rect x="415.99" y="846.10" width="6.07" height="40.00" fill="#6d86a9" stroke="#6d86a9" stroke-width="0.3" stroke-opacity=".35"/>
<rect x="422.90" y="844.00" width="6.07" height="42.10" fill="#a590cf" stroke="#a590cf" stroke-width="0.3" stroke-opacity=".35"/>
<rect x="429.82" y="881.00" width="6.07" height="5.10" fill="#ddb8ad" stroke="#ddb8ad" stroke-width="0.3" stroke-opacity=".35"/>
<rect x="443.65" y="855.90" width="6.07" height="30.20" fill="#86b3c3" stroke="#86b3c3" stroke-width="0.3" stroke-opacity=".35"/>
<rect x="450.56" y="831.40" width="6.07" height="54.70" fill="#6d86a9" stroke="#6d86a9" stroke-width="0.3" stroke-opacity=".35"/>
<rect x="457.47" y="862.40" width="6.07" height="23.70" fill="#a590cf" stroke="#a590cf" stroke-width="0.3" stroke-opacity=".35"/>
<rect x="464.39" y="838.30" width="6.07" height="47.80" fill="#ddb8ad" stroke="#ddb8ad" stroke-width="0.3" stroke-opacity=".35"/>
<rect x="478.21" y="846.10" width="6.07" height="40.00" fill="#86b3c3" stroke="#86b3c3" stroke-width="0.3" stroke-opacity=".35"/>
<rect x="485.13" y="841.60" width="6.07" height="44.50" fill="#6d86a9" stroke="#6d86a9" stroke-width="0.3" stroke-opacity=".35"/>
<rect x="492.04" y="850.40" width="6.07" height="35.70" fill="#a590cf" stroke="#a590cf" stroke-width="0.3" stroke-opacity=".35"/>
<rect x="498.96" y="862.00" width="6.07" height="24.10" fill="#ddb8ad" stroke="#ddb8ad" stroke-width="0.3" stroke-opacity=".35"/>
<rect x="512.78" y="784.80" width="6.07" height="101.30" fill="#86b3c3" stroke="#86b3c3" stroke-width="0.3" stroke-opacity=".35"/>
<rect x="519.70" y="840.80" width="6.07" height="45.30" fill="#6d86a9" stroke="#6d86a9" stroke-width="0.3" stroke-opacity=".35"/>
<rect x="526.61" y="734.90" width="6.07" height="151.20" fill="#a590cf" stroke="#a590cf" stroke-width="0.3" stroke-opacity=".35"/>
<rect x="533.52" y="868.10" width="6.07" height="18.00" fill="#ddb8ad" stroke="#ddb8ad" stroke-width="0.3" stroke-opacity=".35"/>
<rect x="547.35" y="854.30" width="6.07" height="31.80" fill="#86b3c3" stroke="#86b3c3" stroke-width="0.3" stroke-opacity=".35"/>
<rect x="554.27" y="834.20" width="6.07" height="51.90" fill="#6d86a9" stroke="#6d86a9" stroke-width="0.3" stroke-opacity=".35"/>
<rect x="561.18" y="860.60" width="6.07" height="25.50" fill="#a590cf" stroke="#a590cf" stroke-width="0.3" stroke-opacity=".35"/>
<rect x="568.09" y="839.10" width="6.07" height="47.00" fill="#ddb8ad" stroke="#ddb8ad" stroke-width="0.3" stroke-opacity=".35"/>
<rect x="581.92" y="855.90" width="6.07" height="30.20" fill="#86b3c3" stroke="#86b3c3" stroke-width="0.3" stroke-opacity=".35"/>
<rect x="588.83" y="832.80" width="6.07" height="53.30" fill="#6d86a9" stroke="#6d86a9" stroke-width="0.3" stroke-opacity=".35"/>
<rect x="595.75" y="862.00" width="6.07" height="24.10" fill="#a590cf" stroke="#a590cf" stroke-width="0.3" stroke-opacity=".35"/>
<rect x="602.66" y="838.10" width="6.07" height="48.00" fill="#ddb8ad" stroke="#ddb8ad" stroke-width="0.3" stroke-opacity=".35"/>
<rect x="616.49" y="857.50" width="6.07" height="28.60" fill="#86b3c3" stroke="#86b3c3" stroke-width="0.3" stroke-opacity=".35"/>
<rect x="623.40" y="831.00" width="6.07" height="55.10" fill="#6d86a9" stroke="#6d86a9" stroke-width="0.3" stroke-opacity=".35"/>
<rect x="630.32" y="862.80" width="6.07" height="23.30" fill="#a590cf" stroke="#a590cf" stroke-width="0.3" stroke-opacity=".35"/>
<rect x="637.23" y="836.10" width="6.07" height="50.00" fill="#ddb8ad" stroke="#ddb8ad" stroke-width="0.3" stroke-opacity=".35"/>
<rect x="651.06" y="856.50" width="6.07" height="29.60" fill="#86b3c3" stroke="#86b3c3" stroke-width="0.3" stroke-opacity=".35"/>
<rect x="657.97" y="832.40" width="6.07" height="53.70" fill="#6d86a9" stroke="#6d86a9" stroke-width="0.3" stroke-opacity=".35"/>
<rect x="664.89" y="861.00" width="6.07" height="25.10" fill="#a590cf" stroke="#a590cf" stroke-width="0.3" stroke-opacity=".35"/>
<rect x="671.80" y="838.10" width="6.07" height="48.00" fill="#ddb8ad" stroke="#ddb8ad" stroke-width="0.3" stroke-opacity=".35"/>
<circle class="p" cx="412.1" cy="850.2" r="1.7" fill="#93cde0"/>
<path class="e" d="M412.5,850.0V851.8M411.0,850.0h3M411.0,851.8h3"/>
<circle class="p" cx="419.0" cy="845.1" r="1.7" fill="#7594c4"/>
<path class="e" d="M419.5,845.0V847.0M418.0,845.0h3M418.0,847.0h3"/>
<circle class="p" cx="425.9" cy="843.0" r="1.7" fill="#b097e6"/>
<path class="e" d="M425.5,843.0V845.0M424.0,843.0h3M424.0,845.0h3"/>
<circle class="p" cx="432.9" cy="880.4" r="1.7" fill="#f2c6b8"/>
<path class="e" d="M432.5,880.0V882.0M431.0,880.0h3M431.0,882.0h3"/>
<circle class="p" cx="446.7" cy="855.1" r="1.7" fill="#93cde0"/>
<path class="e" d="M446.5,855.0V856.8M445.0,855.0h3M445.0,856.8h3"/>
<circle class="p" cx="453.6" cy="830.5" r="1.7" fill="#7594c4"/>
<path class="e" d="M453.5,830.3V832.3M452.0,830.3h3M452.0,832.3h3"/>
<circle class="p" cx="460.5" cy="861.6" r="1.7" fill="#b097e6"/>
<path class="e" d="M460.5,861.4V863.2M459.0,861.4h3M459.0,863.2h3"/>
<circle class="p" cx="467.4" cy="837.5" r="1.7" fill="#f2c6b8"/>
<path class="e" d="M467.5,837.3V839.1M466.0,837.3h3M466.0,839.1h3"/>
<circle class="p" cx="481.3" cy="840.1" r="1.7" fill="#93cde0"/>
<circle class="p" cx="481.3" cy="848.7" r="1.7" fill="#93cde0"/>
<path class="e" d="M481.5,840.6V850.2M480.0,840.6h3M480.0,850.2h3"/>
<circle class="p" cx="488.2" cy="840.6" r="1.7" fill="#7594c4"/>
<path class="e" d="M488.5,840.4V842.4M487.0,840.4h3M487.0,842.4h3"/>
<circle class="p" cx="495.1" cy="849.8" r="1.7" fill="#b097e6"/>
<path class="e" d="M495.5,849.4V851.2M494.0,849.4h3M494.0,851.2h3"/>
<circle class="p" cx="502.0" cy="861.0" r="1.7" fill="#f2c6b8"/>
<path class="e" d="M501.5,860.8V863.0M500.0,860.8h3M500.0,863.0h3"/>
<circle class="p" cx="515.8" cy="783.7" r="1.7" fill="#93cde0"/>
<path class="e" d="M515.5,783.6V785.8M514.0,783.6h3M514.0,785.8h3"/>
<circle class="p" cx="522.7" cy="839.9" r="1.7" fill="#7594c4"/>
<path class="e" d="M522.5,839.6V841.8M521.0,839.6h3M521.0,841.8h3"/>
<circle class="p" cx="529.6" cy="734.3" r="1.7" fill="#b097e6"/>
<path class="e" d="M529.5,733.9V735.9M528.0,733.9h3M528.0,735.9h3"/>
<circle class="p" cx="536.6" cy="867.3" r="1.7" fill="#f2c6b8"/>
<path class="e" d="M536.5,867.0V869.0M535.0,867.0h3M535.0,869.0h3"/>
<circle class="p" cx="550.4" cy="853.2" r="1.7" fill="#93cde0"/>
<circle class="p" cx="550.4" cy="854.9" r="1.7" fill="#93cde0"/>
<path class="e" d="M550.5,852.4V855.5M549.0,852.4h3M549.0,855.5h3"/>
<circle class="p" cx="557.3" cy="832.4" r="1.7" fill="#7594c4"/>
<circle class="p" cx="557.3" cy="834.4" r="1.7" fill="#7594c4"/>
<path class="e" d="M557.5,831.8V835.9M556.0,831.8h3M556.0,835.9h3"/>
<circle class="p" cx="564.2" cy="859.4" r="1.7" fill="#b097e6"/>
<circle class="p" cx="564.2" cy="861.0" r="1.7" fill="#b097e6"/>
<path class="e" d="M564.5,858.5V862.0M563.0,858.5h3M563.0,862.0h3"/>
<circle class="p" cx="571.1" cy="837.5" r="1.7" fill="#f2c6b8"/>
<circle class="p" cx="571.1" cy="839.5" r="1.7" fill="#f2c6b8"/>
<path class="e" d="M571.5,837.1V840.6M570.0,837.1h3M570.0,840.6h3"/>
<circle class="p" cx="585.0" cy="854.9" r="1.7" fill="#93cde0"/>
<path class="e" d="M584.5,853.8V856.9M583.0,853.8h3M583.0,856.9h3"/>
<circle class="p" cx="591.9" cy="830.7" r="1.7" fill="#7594c4"/>
<circle class="p" cx="591.9" cy="833.0" r="1.7" fill="#7594c4"/>
<path class="e" d="M591.5,830.3V834.0M590.0,830.3h3M590.0,834.0h3"/>
<circle class="p" cx="598.8" cy="860.6" r="1.7" fill="#b097e6"/>
<path class="e" d="M598.5,860.0V863.0M597.0,860.0h3M597.0,863.0h3"/>
<circle class="p" cx="605.7" cy="836.5" r="1.7" fill="#f2c6b8"/>
<circle class="p" cx="605.7" cy="838.5" r="1.7" fill="#f2c6b8"/>
<path class="e" d="M605.5,835.9V839.5M604.0,835.9h3M604.0,839.5h3"/>
<circle class="p" cx="619.5" cy="856.5" r="1.7" fill="#93cde0"/>
<path class="e" d="M619.5,856.3V858.3M618.0,856.3h3M618.0,858.3h3"/>
<circle class="p" cx="626.4" cy="829.3" r="1.7" fill="#7594c4"/>
<circle class="p" cx="626.4" cy="831.0" r="1.7" fill="#7594c4"/>
<path class="e" d="M626.5,829.0V832.0M625.0,829.0h3M625.0,832.0h3"/>
<circle class="p" cx="633.4" cy="862.0" r="1.7" fill="#b097e6"/>
<path class="e" d="M633.5,861.6V863.8M632.0,861.6h3M632.0,863.8h3"/>
<circle class="p" cx="640.3" cy="835.0" r="1.7" fill="#f2c6b8"/>
<path class="e" d="M640.5,834.8V837.0M639.0,834.8h3M639.0,837.0h3"/>
<circle class="p" cx="654.1" cy="853.8" r="1.7" fill="#93cde0"/>
<circle class="p" cx="654.1" cy="855.9" r="1.7" fill="#93cde0"/>
<circle class="p" cx="654.1" cy="858.3" r="1.7" fill="#93cde0"/>
<path class="e" d="M654.5,853.4V859.6M653.0,853.4h3M653.0,859.6h3"/>
<circle class="p" cx="661.0" cy="827.7" r="1.7" fill="#7594c4"/>
<circle class="p" cx="661.0" cy="831.4" r="1.7" fill="#7594c4"/>
<circle class="p" cx="661.0" cy="833.0" r="1.7" fill="#7594c4"/>
<path class="e" d="M661.5,827.3V834.4M660.0,827.3h3M660.0,834.4h3"/>
<circle class="p" cx="667.9" cy="856.9" r="1.7" fill="#b097e6"/>
<circle class="p" cx="667.9" cy="861.0" r="1.7" fill="#b097e6"/>
<circle class="p" cx="667.9" cy="862.6" r="1.7" fill="#b097e6"/>
<path class="e" d="M667.5,856.9V864.1M666.0,856.9h3M666.0,864.1h3"/>
<circle class="p" cx="674.8" cy="833.0" r="1.7" fill="#f2c6b8"/>
<circle class="p" cx="674.8" cy="837.9" r="1.7" fill="#f2c6b8"/>
<circle class="p" cx="674.8" cy="839.5" r="1.7" fill="#f2c6b8"/>
<path class="e" d="M674.5,833.0V842.0M673.0,833.0h3M673.0,842.0h3"/>
<rect x="405.50" y="726.30" width="276.10" height="159.80" fill="none" stroke="#262626" stroke-width="1.0"/>
<text x="403.00" y="890.90" font-size="12.5" text-anchor="end" fill="#1a1a1a" font-family="'DejaVu Sans','Liberation Sans',sans-serif" font-weight="bold">0</text>
<text x="403.00" y="852.90" font-size="12.5" text-anchor="end" fill="#1a1a1a" font-family="'DejaVu Sans','Liberation Sans',sans-serif" font-weight="bold">0.5</text>
<text x="403.00" y="813.80" font-size="12.5" text-anchor="end" fill="#1a1a1a" font-family="'DejaVu Sans','Liberation Sans',sans-serif" font-weight="bold">1</text>
<text x="403.00" y="775.20" font-size="12.5" text-anchor="end" fill="#1a1a1a" font-family="'DejaVu Sans','Liberation Sans',sans-serif" font-weight="bold">1.5</text>
<text x="403.00" y="736.60" font-size="12.5" text-anchor="end" fill="#1a1a1a" font-family="'DejaVu Sans','Liberation Sans',sans-serif" font-weight="bold">2</text>
<text x="422.48" y="899.30" font-size="12.8" text-anchor="middle" fill="#1a1a1a" font-family="'DejaVu Sans','Liberation Sans',sans-serif" font-weight="bold">G</text>
<text x="457.05" y="899.30" font-size="12.8" text-anchor="middle" fill="#1a1a1a" font-family="'DejaVu Sans','Liberation Sans',sans-serif" font-weight="bold">F</text>
<text x="491.62" y="899.30" font-size="12.8" text-anchor="middle" fill="#1a1a1a" font-family="'DejaVu Sans','Liberation Sans',sans-serif" font-weight="bold">K</text>
<text x="526.19" y="899.30" font-size="12.8" text-anchor="middle" fill="#1a1a1a" font-family="'DejaVu Sans','Liberation Sans',sans-serif" font-weight="bold">T</text>
<text x="560.76" y="899.30" font-size="12.8" text-anchor="middle" fill="#1a1a1a" font-family="'DejaVu Sans','Liberation Sans',sans-serif" font-weight="bold">D</text>
<text x="595.33" y="899.30" font-size="12.8" text-anchor="middle" fill="#1a1a1a" font-family="'DejaVu Sans','Liberation Sans',sans-serif" font-weight="bold">P</text>
<text x="629.90" y="899.30" font-size="12.8" text-anchor="middle" fill="#1a1a1a" font-family="'DejaVu Sans','Liberation Sans',sans-serif" font-weight="bold">M</text>
<text x="664.07" y="899.30" font-size="12.8" text-anchor="middle" fill="#1a1a1a" font-family="'DejaVu Sans','Liberation Sans',sans-serif" font-weight="bold">M<tspan font-size="8.70" dy="3.20">5CV</tspan></text>
<text x="375.80" y="806.00" font-size="14.3" text-anchor="middle" fill="#1a1a1a" font-family="'DejaVu Sans','Liberation Sans',sans-serif" font-weight="bold" transform="rotate(-90 375.80 806.00)">Value</text>
<text x="543.55" y="717.20" font-size="14.9" text-anchor="middle" fill="#1a1a1a" font-family="'DejaVu Sans','Liberation Sans',sans-serif" font-weight="bold">Kinase cold-start</text>
<rect x="629.60" y="733.40" width="13.30" height="5.80" fill="#86b3c3" stroke="none" stroke-width="1"/>
<text x="650.00" y="739.62" font-size="9.1" text-anchor="start" fill="#1a1a1a" font-family="'DejaVu Sans','Liberation Sans',sans-serif" font-weight="bold">MAE</text>
<rect x="629.60" y="746.60" width="13.30" height="5.80" fill="#6d86a9" stroke="none" stroke-width="1"/>
<text x="650.00" y="752.82" font-size="9.1" text-anchor="start" fill="#1a1a1a" font-family="'DejaVu Sans','Liberation Sans',sans-serif" font-weight="bold">CI</text>
<rect x="629.60" y="759.80" width="13.30" height="5.80" fill="#a590cf" stroke="none" stroke-width="1"/>
<text x="650.00" y="766.02" font-size="9.1" text-anchor="start" fill="#1a1a1a" font-family="'DejaVu Sans','Liberation Sans',sans-serif" font-weight="bold">MSE</text>
<rect x="629.60" y="773.00" width="13.30" height="5.80" fill="#ddb8ad" stroke="none" stroke-width="1"/>
<text x="650.00" y="779.22" font-size="9.1" text-anchor="start" fill="#1a1a1a" font-family="'DejaVu Sans','Liberation Sans',sans-serif" font-weight="bold">PCC</text>
<text x="14.00" y="915.30" font-size="11.95" text-anchor="start" fill="#000" font-family="'Liberation Sans','DejaVu Sans',sans-serif" font-weight="bold">G: GraphDTA</text>
<text x="96.10" y="915.30" font-size="11.95" text-anchor="start" fill="#000" font-family="'Liberation Sans','DejaVu Sans',sans-serif" font-weight="bold">F: FusionDTA</text>
<text x="180.30" y="915.30" font-size="11.95" text-anchor="start" fill="#000" font-family="'Liberation Sans','DejaVu Sans',sans-serif" font-weight="bold">K: KDBNet</text>
<text x="246.70" y="915.30" font-size="11.95" text-anchor="start" fill="#000" font-family="'Liberation Sans','DejaVu Sans',sans-serif" font-weight="bold">T: TransformerCPI</text>
<text x="356.90" y="915.30" font-size="11.95" text-anchor="start" fill="#000" font-family="'Liberation Sans','DejaVu Sans',sans-serif" font-weight="bold">D: DrugBAN</text>
<text x="433.20" y="915.30" font-size="11.95" text-anchor="start" fill="#000" font-family="'Liberation Sans','DejaVu Sans',sans-serif" font-weight="bold">P: PSICHIC</text>
<text x="502.00" y="915.30" font-size="11.95" text-anchor="start" fill="#000" font-family="'Liberation Sans','DejaVu Sans',sans-serif" font-weight="bold">M: MMCLKin</text>
<text x="579.9" y="915.3" font-size="11.95" fill="#000" font-family="'Liberation Sans','DejaVu Sans',sans-serif" font-weight="bold">M<tspan font-size="8.5" dy="4.0">5CV</tspan><tspan x="604.6" y="915.3">:</tspan><tspan x="612.8" y="915.3">MMCLKin</tspan><tspan font-size="8.5" dy="4.0">5CV</tspan></text>
</svg>
</body></html>
